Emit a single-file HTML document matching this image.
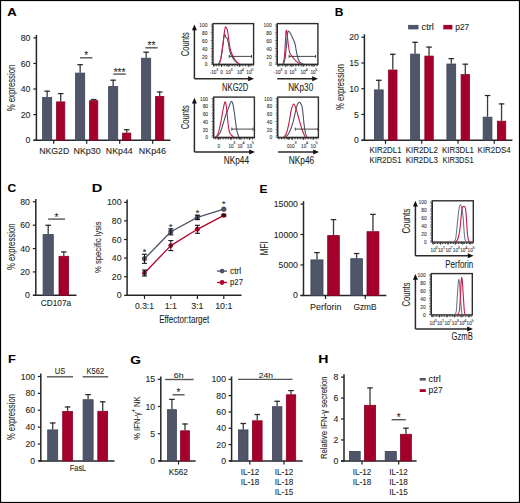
<!DOCTYPE html>
<html><head><meta charset="utf-8"><title>Figure</title>
<style>
html,body{margin:0;padding:0;background:#fff;}
body{width:520px;height:503px;overflow:hidden;}
svg{display:block;}
text{font-family:"Liberation Sans", sans-serif;stroke:#231f20;stroke-width:0.09px;}
</style></head>
<body>
<svg width="520" height="503" viewBox="0 0 520 503">
<rect x="0.5" y="0.5" width="519" height="502" fill="#fff" stroke="#000" stroke-width="1.2"/>
<text x="7.17" y="16.4" font-size="11.8" font-weight="bold" fill="#000" textLength="9.47" lengthAdjust="spacingAndGlyphs">A</text>
<line x1="36.4" y1="35" x2="36.4" y2="140.9" stroke="#262626" stroke-width="1.5" stroke-linecap="butt"/>
<line x1="33.4" y1="37.9" x2="36.4" y2="37.9" stroke="#1e1e1e" stroke-width="1.2" stroke-linecap="butt"/>
<text x="30.4" y="40.99" font-size="8.7" text-anchor="end" fill="#231f20">80</text>
<line x1="33.4" y1="63.47" x2="36.4" y2="63.47" stroke="#1e1e1e" stroke-width="1.2" stroke-linecap="butt"/>
<text x="30.4" y="66.56" font-size="8.7" text-anchor="end" fill="#231f20">60</text>
<line x1="33.4" y1="89.05" x2="36.4" y2="89.05" stroke="#1e1e1e" stroke-width="1.2" stroke-linecap="butt"/>
<text x="30.4" y="92.14" font-size="8.7" text-anchor="end" fill="#231f20">40</text>
<line x1="33.4" y1="114.62" x2="36.4" y2="114.62" stroke="#1e1e1e" stroke-width="1.2" stroke-linecap="butt"/>
<text x="30.4" y="117.71" font-size="8.7" text-anchor="end" fill="#231f20">20</text>
<line x1="33.4" y1="140.2" x2="36.4" y2="140.2" stroke="#1e1e1e" stroke-width="1.2" stroke-linecap="butt"/>
<text x="30.4" y="143.29" font-size="8.7" text-anchor="end" fill="#231f20">0</text>
<line x1="33.4" y1="140.2" x2="170.5" y2="140.2" stroke="#262626" stroke-width="1.5" stroke-linecap="butt"/>
<line x1="53.7" y1="140.2" x2="53.7" y2="143.8" stroke="#1e1e1e" stroke-width="1.2" stroke-linecap="butt"/>
<line x1="86.7" y1="140.2" x2="86.7" y2="143.8" stroke="#1e1e1e" stroke-width="1.2" stroke-linecap="butt"/>
<line x1="119.7" y1="140.2" x2="119.7" y2="143.8" stroke="#1e1e1e" stroke-width="1.2" stroke-linecap="butt"/>
<line x1="152.7" y1="140.2" x2="152.7" y2="143.8" stroke="#1e1e1e" stroke-width="1.2" stroke-linecap="butt"/>
<rect x="42.6" y="97.5" width="9.1" height="42.7" fill="#4f566a" stroke="#3c4356" stroke-width="0.8"/>
<rect x="56.6" y="101.9" width="8.2" height="38.3" fill="#a3002b" stroke="#8c0025" stroke-width="0.8"/>
<line x1="47.15" y1="97.1" x2="47.15" y2="90.7" stroke="#3a3a3a" stroke-width="1.3" stroke-linecap="butt"/>
<line x1="44.35" y1="91.2" x2="49.95" y2="91.2" stroke="#2a2a2a" stroke-width="1.25" stroke-linecap="butt"/>
<line x1="60.7" y1="101.5" x2="60.7" y2="93.1" stroke="#3a3a3a" stroke-width="1.3" stroke-linecap="butt"/>
<line x1="57.9" y1="93.6" x2="63.5" y2="93.6" stroke="#2a2a2a" stroke-width="1.25" stroke-linecap="butt"/>
<rect x="75.6" y="73.1" width="9.1" height="67.1" fill="#4f566a" stroke="#3c4356" stroke-width="0.8"/>
<rect x="89.6" y="100.7" width="8.2" height="39.5" fill="#a3002b" stroke="#8c0025" stroke-width="0.8"/>
<line x1="80.15" y1="72.7" x2="80.15" y2="64.2" stroke="#3a3a3a" stroke-width="1.3" stroke-linecap="butt"/>
<line x1="77.35" y1="64.7" x2="82.95" y2="64.7" stroke="#2a2a2a" stroke-width="1.25" stroke-linecap="butt"/>
<line x1="93.7" y1="100.3" x2="93.7" y2="99" stroke="#3a3a3a" stroke-width="1.3" stroke-linecap="butt"/>
<line x1="90.9" y1="99.5" x2="96.5" y2="99.5" stroke="#2a2a2a" stroke-width="1.25" stroke-linecap="butt"/>
<rect x="108.6" y="86.6" width="9.1" height="53.6" fill="#4f566a" stroke="#3c4356" stroke-width="0.8"/>
<rect x="122.6" y="133.1" width="8.2" height="7.1" fill="#a3002b" stroke="#8c0025" stroke-width="0.8"/>
<line x1="113.15" y1="86.2" x2="113.15" y2="79.7" stroke="#3a3a3a" stroke-width="1.3" stroke-linecap="butt"/>
<line x1="110.35" y1="80.2" x2="115.95" y2="80.2" stroke="#2a2a2a" stroke-width="1.25" stroke-linecap="butt"/>
<line x1="126.7" y1="132.7" x2="126.7" y2="129.2" stroke="#3a3a3a" stroke-width="1.3" stroke-linecap="butt"/>
<line x1="123.9" y1="129.7" x2="129.5" y2="129.7" stroke="#2a2a2a" stroke-width="1.25" stroke-linecap="butt"/>
<rect x="141.6" y="58.2" width="9.1" height="82" fill="#4f566a" stroke="#3c4356" stroke-width="0.8"/>
<rect x="155.6" y="96.5" width="8.2" height="43.7" fill="#a3002b" stroke="#8c0025" stroke-width="0.8"/>
<line x1="146.15" y1="57.8" x2="146.15" y2="51.7" stroke="#3a3a3a" stroke-width="1.3" stroke-linecap="butt"/>
<line x1="143.35" y1="52.2" x2="148.95" y2="52.2" stroke="#2a2a2a" stroke-width="1.25" stroke-linecap="butt"/>
<line x1="159.7" y1="96.1" x2="159.7" y2="91.5" stroke="#3a3a3a" stroke-width="1.3" stroke-linecap="butt"/>
<line x1="156.9" y1="92" x2="162.5" y2="92" stroke="#2a2a2a" stroke-width="1.25" stroke-linecap="butt"/>
<text x="39.18" y="154.4" font-size="8.7" fill="#231f20" textLength="30.14" lengthAdjust="spacingAndGlyphs">NKG2D</text>
<text x="73.47" y="154.4" font-size="8.7" fill="#231f20" textLength="27.28" lengthAdjust="spacingAndGlyphs">NKp30</text>
<text x="105.88" y="154.4" font-size="8.7" fill="#231f20" textLength="26.88" lengthAdjust="spacingAndGlyphs">NKp44</text>
<text x="138.87" y="154.4" font-size="8.7" fill="#231f20" textLength="27.12" lengthAdjust="spacingAndGlyphs">NKp46</text>
<line x1="80.1" y1="57.8" x2="92.4" y2="57.8" stroke="#555" stroke-width="1.4" stroke-linecap="butt"/>
<text x="86.25" y="59.35" font-size="10.0" text-anchor="middle" fill="#222">*</text>
<line x1="113.3" y1="74.1" x2="125.8" y2="74.1" stroke="#555" stroke-width="1.4" stroke-linecap="butt"/>
<text x="119.55" y="75.65" font-size="10.0" text-anchor="middle" fill="#222">***</text>
<line x1="145.3" y1="47.8" x2="157.6" y2="47.8" stroke="#555" stroke-width="1.4" stroke-linecap="butt"/>
<text x="151.45" y="49.35" font-size="10.0" text-anchor="middle" fill="#222">**</text>
<text transform="translate(15.3 111.1) rotate(-90)" x="-0.28" y="0" font-size="10.2" fill="#231f20" textLength="46.78" lengthAdjust="spacingAndGlyphs">% expression</text>
<rect x="213" y="23.6" width="40.6" height="40.7" fill="none" stroke="#2e2e2e" stroke-width="1.4"/>
<line x1="210.8" y1="64" x2="213" y2="64" stroke="#333" stroke-width="0.8" stroke-linecap="butt"/>
<text x="207.4" y="66.35" font-size="4.9" text-anchor="end" fill="#3a3a3a">0</text>
<line x1="211.3" y1="62.44" x2="213" y2="62.44" stroke="#222" stroke-width="0.7" stroke-linecap="butt"/>
<line x1="211.3" y1="60.87" x2="213" y2="60.87" stroke="#222" stroke-width="0.7" stroke-linecap="butt"/>
<line x1="211.3" y1="59.31" x2="213" y2="59.31" stroke="#222" stroke-width="0.7" stroke-linecap="butt"/>
<line x1="211.3" y1="57.74" x2="213" y2="57.74" stroke="#222" stroke-width="0.7" stroke-linecap="butt"/>
<line x1="210.8" y1="56.18" x2="213" y2="56.18" stroke="#333" stroke-width="0.8" stroke-linecap="butt"/>
<text x="207.4" y="58.53" font-size="4.9" text-anchor="end" fill="#3a3a3a">20</text>
<line x1="211.3" y1="54.62" x2="213" y2="54.62" stroke="#222" stroke-width="0.7" stroke-linecap="butt"/>
<line x1="211.3" y1="53.05" x2="213" y2="53.05" stroke="#222" stroke-width="0.7" stroke-linecap="butt"/>
<line x1="211.3" y1="51.49" x2="213" y2="51.49" stroke="#222" stroke-width="0.7" stroke-linecap="butt"/>
<line x1="211.3" y1="49.92" x2="213" y2="49.92" stroke="#222" stroke-width="0.7" stroke-linecap="butt"/>
<line x1="210.8" y1="48.36" x2="213" y2="48.36" stroke="#333" stroke-width="0.8" stroke-linecap="butt"/>
<text x="207.4" y="50.71" font-size="4.9" text-anchor="end" fill="#3a3a3a">40</text>
<line x1="211.3" y1="46.8" x2="213" y2="46.8" stroke="#222" stroke-width="0.7" stroke-linecap="butt"/>
<line x1="211.3" y1="45.23" x2="213" y2="45.23" stroke="#222" stroke-width="0.7" stroke-linecap="butt"/>
<line x1="211.3" y1="43.67" x2="213" y2="43.67" stroke="#222" stroke-width="0.7" stroke-linecap="butt"/>
<line x1="211.3" y1="42.1" x2="213" y2="42.1" stroke="#222" stroke-width="0.7" stroke-linecap="butt"/>
<line x1="210.8" y1="40.54" x2="213" y2="40.54" stroke="#333" stroke-width="0.8" stroke-linecap="butt"/>
<text x="207.4" y="42.89" font-size="4.9" text-anchor="end" fill="#3a3a3a">60</text>
<line x1="211.3" y1="38.98" x2="213" y2="38.98" stroke="#222" stroke-width="0.7" stroke-linecap="butt"/>
<line x1="211.3" y1="37.41" x2="213" y2="37.41" stroke="#222" stroke-width="0.7" stroke-linecap="butt"/>
<line x1="211.3" y1="35.85" x2="213" y2="35.85" stroke="#222" stroke-width="0.7" stroke-linecap="butt"/>
<line x1="211.3" y1="34.28" x2="213" y2="34.28" stroke="#222" stroke-width="0.7" stroke-linecap="butt"/>
<line x1="210.8" y1="32.72" x2="213" y2="32.72" stroke="#333" stroke-width="0.8" stroke-linecap="butt"/>
<text x="207.4" y="35.07" font-size="4.9" text-anchor="end" fill="#3a3a3a">80</text>
<line x1="211.3" y1="31.16" x2="213" y2="31.16" stroke="#222" stroke-width="0.7" stroke-linecap="butt"/>
<line x1="211.3" y1="29.59" x2="213" y2="29.59" stroke="#222" stroke-width="0.7" stroke-linecap="butt"/>
<line x1="211.3" y1="28.03" x2="213" y2="28.03" stroke="#222" stroke-width="0.7" stroke-linecap="butt"/>
<line x1="211.3" y1="26.46" x2="213" y2="26.46" stroke="#222" stroke-width="0.7" stroke-linecap="butt"/>
<line x1="210.8" y1="24.9" x2="213" y2="24.9" stroke="#333" stroke-width="0.8" stroke-linecap="butt"/>
<text x="207.4" y="27.25" font-size="4.9" text-anchor="end" fill="#3a3a3a">100</text>
<line x1="213" y1="65.6" x2="253.6" y2="65.6" stroke="#222" stroke-width="1.3" stroke-dasharray="0.9 0.7"/>
<line x1="213.8" y1="64.3" x2="213.8" y2="66.9" stroke="#222" stroke-width="0.8" stroke-linecap="butt"/>
<text x="213.8" y="74.4" font-size="4.7" text-anchor="middle" fill="#3a3a3a">10</text>
<text x="217.2" y="71.3" font-size="3.8" text-anchor="middle" fill="#3a3a3a">3</text>
<text x="210.5" y="74.4" font-size="4.7" text-anchor="middle" fill="#3a3a3a">-</text>
<line x1="221.6" y1="64.3" x2="221.6" y2="66.9" stroke="#222" stroke-width="0.8" stroke-linecap="butt"/>
<text x="221.6" y="74.4" font-size="4.7" text-anchor="middle" fill="#3a3a3a">0</text>
<line x1="228.2" y1="64.3" x2="228.2" y2="66.9" stroke="#222" stroke-width="0.8" stroke-linecap="butt"/>
<text x="228.2" y="74.4" font-size="4.7" text-anchor="middle" fill="#3a3a3a">10</text>
<text x="231.6" y="71.3" font-size="3.8" text-anchor="middle" fill="#3a3a3a">3</text>
<line x1="239.5" y1="64.3" x2="239.5" y2="66.9" stroke="#222" stroke-width="0.8" stroke-linecap="butt"/>
<text x="239.5" y="74.4" font-size="4.7" text-anchor="middle" fill="#3a3a3a">10</text>
<text x="242.9" y="71.3" font-size="3.8" text-anchor="middle" fill="#3a3a3a">4</text>
<line x1="248.9" y1="64.3" x2="248.9" y2="66.9" stroke="#222" stroke-width="0.8" stroke-linecap="butt"/>
<text x="248.9" y="74.4" font-size="4.7" text-anchor="middle" fill="#3a3a3a">10</text>
<text x="252.3" y="71.3" font-size="3.8" text-anchor="middle" fill="#3a3a3a">5</text>
<rect x="277.3" y="23.6" width="40.6" height="40.7" fill="none" stroke="#2e2e2e" stroke-width="1.4"/>
<line x1="275.1" y1="64" x2="277.3" y2="64" stroke="#333" stroke-width="0.8" stroke-linecap="butt"/>
<text x="271.7" y="66.35" font-size="4.9" text-anchor="end" fill="#3a3a3a">0</text>
<line x1="275.6" y1="62.44" x2="277.3" y2="62.44" stroke="#222" stroke-width="0.7" stroke-linecap="butt"/>
<line x1="275.6" y1="60.87" x2="277.3" y2="60.87" stroke="#222" stroke-width="0.7" stroke-linecap="butt"/>
<line x1="275.6" y1="59.31" x2="277.3" y2="59.31" stroke="#222" stroke-width="0.7" stroke-linecap="butt"/>
<line x1="275.6" y1="57.74" x2="277.3" y2="57.74" stroke="#222" stroke-width="0.7" stroke-linecap="butt"/>
<line x1="275.1" y1="56.18" x2="277.3" y2="56.18" stroke="#333" stroke-width="0.8" stroke-linecap="butt"/>
<text x="271.7" y="58.53" font-size="4.9" text-anchor="end" fill="#3a3a3a">20</text>
<line x1="275.6" y1="54.62" x2="277.3" y2="54.62" stroke="#222" stroke-width="0.7" stroke-linecap="butt"/>
<line x1="275.6" y1="53.05" x2="277.3" y2="53.05" stroke="#222" stroke-width="0.7" stroke-linecap="butt"/>
<line x1="275.6" y1="51.49" x2="277.3" y2="51.49" stroke="#222" stroke-width="0.7" stroke-linecap="butt"/>
<line x1="275.6" y1="49.92" x2="277.3" y2="49.92" stroke="#222" stroke-width="0.7" stroke-linecap="butt"/>
<line x1="275.1" y1="48.36" x2="277.3" y2="48.36" stroke="#333" stroke-width="0.8" stroke-linecap="butt"/>
<text x="271.7" y="50.71" font-size="4.9" text-anchor="end" fill="#3a3a3a">40</text>
<line x1="275.6" y1="46.8" x2="277.3" y2="46.8" stroke="#222" stroke-width="0.7" stroke-linecap="butt"/>
<line x1="275.6" y1="45.23" x2="277.3" y2="45.23" stroke="#222" stroke-width="0.7" stroke-linecap="butt"/>
<line x1="275.6" y1="43.67" x2="277.3" y2="43.67" stroke="#222" stroke-width="0.7" stroke-linecap="butt"/>
<line x1="275.6" y1="42.1" x2="277.3" y2="42.1" stroke="#222" stroke-width="0.7" stroke-linecap="butt"/>
<line x1="275.1" y1="40.54" x2="277.3" y2="40.54" stroke="#333" stroke-width="0.8" stroke-linecap="butt"/>
<text x="271.7" y="42.89" font-size="4.9" text-anchor="end" fill="#3a3a3a">60</text>
<line x1="275.6" y1="38.98" x2="277.3" y2="38.98" stroke="#222" stroke-width="0.7" stroke-linecap="butt"/>
<line x1="275.6" y1="37.41" x2="277.3" y2="37.41" stroke="#222" stroke-width="0.7" stroke-linecap="butt"/>
<line x1="275.6" y1="35.85" x2="277.3" y2="35.85" stroke="#222" stroke-width="0.7" stroke-linecap="butt"/>
<line x1="275.6" y1="34.28" x2="277.3" y2="34.28" stroke="#222" stroke-width="0.7" stroke-linecap="butt"/>
<line x1="275.1" y1="32.72" x2="277.3" y2="32.72" stroke="#333" stroke-width="0.8" stroke-linecap="butt"/>
<text x="271.7" y="35.07" font-size="4.9" text-anchor="end" fill="#3a3a3a">80</text>
<line x1="275.6" y1="31.16" x2="277.3" y2="31.16" stroke="#222" stroke-width="0.7" stroke-linecap="butt"/>
<line x1="275.6" y1="29.59" x2="277.3" y2="29.59" stroke="#222" stroke-width="0.7" stroke-linecap="butt"/>
<line x1="275.6" y1="28.03" x2="277.3" y2="28.03" stroke="#222" stroke-width="0.7" stroke-linecap="butt"/>
<line x1="275.6" y1="26.46" x2="277.3" y2="26.46" stroke="#222" stroke-width="0.7" stroke-linecap="butt"/>
<line x1="275.1" y1="24.9" x2="277.3" y2="24.9" stroke="#333" stroke-width="0.8" stroke-linecap="butt"/>
<text x="271.7" y="27.25" font-size="4.9" text-anchor="end" fill="#3a3a3a">100</text>
<line x1="277.3" y1="65.6" x2="317.9" y2="65.6" stroke="#222" stroke-width="1.3" stroke-dasharray="0.9 0.7"/>
<line x1="278" y1="64.3" x2="278" y2="66.9" stroke="#222" stroke-width="0.8" stroke-linecap="butt"/>
<text x="278" y="74.4" font-size="4.7" text-anchor="middle" fill="#3a3a3a">10</text>
<text x="281.4" y="71.3" font-size="3.8" text-anchor="middle" fill="#3a3a3a">3</text>
<text x="274.7" y="74.4" font-size="4.7" text-anchor="middle" fill="#3a3a3a">-</text>
<line x1="285.9" y1="64.3" x2="285.9" y2="66.9" stroke="#222" stroke-width="0.8" stroke-linecap="butt"/>
<text x="285.9" y="74.4" font-size="4.7" text-anchor="middle" fill="#3a3a3a">0</text>
<line x1="291.8" y1="64.3" x2="291.8" y2="66.9" stroke="#222" stroke-width="0.8" stroke-linecap="butt"/>
<text x="291.8" y="74.4" font-size="4.7" text-anchor="middle" fill="#3a3a3a">10</text>
<text x="295.2" y="71.3" font-size="3.8" text-anchor="middle" fill="#3a3a3a">3</text>
<line x1="303.1" y1="64.3" x2="303.1" y2="66.9" stroke="#222" stroke-width="0.8" stroke-linecap="butt"/>
<text x="303.1" y="74.4" font-size="4.7" text-anchor="middle" fill="#3a3a3a">10</text>
<text x="306.5" y="71.3" font-size="3.8" text-anchor="middle" fill="#3a3a3a">4</text>
<line x1="313" y1="64.3" x2="313" y2="66.9" stroke="#222" stroke-width="0.8" stroke-linecap="butt"/>
<text x="313" y="74.4" font-size="4.7" text-anchor="middle" fill="#3a3a3a">10</text>
<text x="316.4" y="71.3" font-size="3.8" text-anchor="middle" fill="#3a3a3a">5</text>
<rect x="213.7" y="97.1" width="40.7" height="40.3" fill="none" stroke="#2e2e2e" stroke-width="1.4"/>
<line x1="211.5" y1="137.1" x2="213.7" y2="137.1" stroke="#333" stroke-width="0.8" stroke-linecap="butt"/>
<text x="208.1" y="139.45" font-size="4.9" text-anchor="end" fill="#3a3a3a">0</text>
<line x1="212" y1="135.55" x2="213.7" y2="135.55" stroke="#222" stroke-width="0.7" stroke-linecap="butt"/>
<line x1="212" y1="134" x2="213.7" y2="134" stroke="#222" stroke-width="0.7" stroke-linecap="butt"/>
<line x1="212" y1="132.46" x2="213.7" y2="132.46" stroke="#222" stroke-width="0.7" stroke-linecap="butt"/>
<line x1="212" y1="130.91" x2="213.7" y2="130.91" stroke="#222" stroke-width="0.7" stroke-linecap="butt"/>
<line x1="211.5" y1="129.36" x2="213.7" y2="129.36" stroke="#333" stroke-width="0.8" stroke-linecap="butt"/>
<text x="208.1" y="131.71" font-size="4.9" text-anchor="end" fill="#3a3a3a">20</text>
<line x1="212" y1="127.81" x2="213.7" y2="127.81" stroke="#222" stroke-width="0.7" stroke-linecap="butt"/>
<line x1="212" y1="126.26" x2="213.7" y2="126.26" stroke="#222" stroke-width="0.7" stroke-linecap="butt"/>
<line x1="212" y1="124.72" x2="213.7" y2="124.72" stroke="#222" stroke-width="0.7" stroke-linecap="butt"/>
<line x1="212" y1="123.17" x2="213.7" y2="123.17" stroke="#222" stroke-width="0.7" stroke-linecap="butt"/>
<line x1="211.5" y1="121.62" x2="213.7" y2="121.62" stroke="#333" stroke-width="0.8" stroke-linecap="butt"/>
<text x="208.1" y="123.97" font-size="4.9" text-anchor="end" fill="#3a3a3a">40</text>
<line x1="212" y1="120.07" x2="213.7" y2="120.07" stroke="#222" stroke-width="0.7" stroke-linecap="butt"/>
<line x1="212" y1="118.52" x2="213.7" y2="118.52" stroke="#222" stroke-width="0.7" stroke-linecap="butt"/>
<line x1="212" y1="116.98" x2="213.7" y2="116.98" stroke="#222" stroke-width="0.7" stroke-linecap="butt"/>
<line x1="212" y1="115.43" x2="213.7" y2="115.43" stroke="#222" stroke-width="0.7" stroke-linecap="butt"/>
<line x1="211.5" y1="113.88" x2="213.7" y2="113.88" stroke="#333" stroke-width="0.8" stroke-linecap="butt"/>
<text x="208.1" y="116.23" font-size="4.9" text-anchor="end" fill="#3a3a3a">60</text>
<line x1="212" y1="112.33" x2="213.7" y2="112.33" stroke="#222" stroke-width="0.7" stroke-linecap="butt"/>
<line x1="212" y1="110.78" x2="213.7" y2="110.78" stroke="#222" stroke-width="0.7" stroke-linecap="butt"/>
<line x1="212" y1="109.24" x2="213.7" y2="109.24" stroke="#222" stroke-width="0.7" stroke-linecap="butt"/>
<line x1="212" y1="107.69" x2="213.7" y2="107.69" stroke="#222" stroke-width="0.7" stroke-linecap="butt"/>
<line x1="211.5" y1="106.14" x2="213.7" y2="106.14" stroke="#333" stroke-width="0.8" stroke-linecap="butt"/>
<text x="208.1" y="108.49" font-size="4.9" text-anchor="end" fill="#3a3a3a">80</text>
<line x1="212" y1="104.59" x2="213.7" y2="104.59" stroke="#222" stroke-width="0.7" stroke-linecap="butt"/>
<line x1="212" y1="103.04" x2="213.7" y2="103.04" stroke="#222" stroke-width="0.7" stroke-linecap="butt"/>
<line x1="212" y1="101.5" x2="213.7" y2="101.5" stroke="#222" stroke-width="0.7" stroke-linecap="butt"/>
<line x1="212" y1="99.95" x2="213.7" y2="99.95" stroke="#222" stroke-width="0.7" stroke-linecap="butt"/>
<line x1="211.5" y1="98.4" x2="213.7" y2="98.4" stroke="#333" stroke-width="0.8" stroke-linecap="butt"/>
<text x="208.1" y="100.75" font-size="4.9" text-anchor="end" fill="#3a3a3a">100</text>
<line x1="213.7" y1="138.7" x2="254.4" y2="138.7" stroke="#222" stroke-width="1.3" stroke-dasharray="0.9 0.7"/>
<line x1="218.8" y1="137.4" x2="218.8" y2="140" stroke="#222" stroke-width="0.8" stroke-linecap="butt"/>
<text x="218.8" y="147.5" font-size="4.7" text-anchor="middle" fill="#3a3a3a">0</text>
<line x1="231" y1="137.4" x2="231" y2="140" stroke="#222" stroke-width="0.8" stroke-linecap="butt"/>
<text x="231" y="147.5" font-size="4.7" text-anchor="middle" fill="#3a3a3a">10</text>
<text x="234.4" y="144.4" font-size="3.8" text-anchor="middle" fill="#3a3a3a">3</text>
<line x1="240.1" y1="137.4" x2="240.1" y2="140" stroke="#222" stroke-width="0.8" stroke-linecap="butt"/>
<text x="240.1" y="147.5" font-size="4.7" text-anchor="middle" fill="#3a3a3a">10</text>
<text x="243.5" y="144.4" font-size="3.8" text-anchor="middle" fill="#3a3a3a">4</text>
<line x1="249.4" y1="137.4" x2="249.4" y2="140" stroke="#222" stroke-width="0.8" stroke-linecap="butt"/>
<text x="249.4" y="147.5" font-size="4.7" text-anchor="middle" fill="#3a3a3a">10</text>
<text x="252.8" y="144.4" font-size="3.8" text-anchor="middle" fill="#3a3a3a">5</text>
<rect x="277.8" y="97.1" width="40.6" height="40.3" fill="none" stroke="#2e2e2e" stroke-width="1.4"/>
<line x1="275.6" y1="137.1" x2="277.8" y2="137.1" stroke="#333" stroke-width="0.8" stroke-linecap="butt"/>
<text x="272.2" y="139.45" font-size="4.9" text-anchor="end" fill="#3a3a3a">0</text>
<line x1="276.1" y1="135.55" x2="277.8" y2="135.55" stroke="#222" stroke-width="0.7" stroke-linecap="butt"/>
<line x1="276.1" y1="134" x2="277.8" y2="134" stroke="#222" stroke-width="0.7" stroke-linecap="butt"/>
<line x1="276.1" y1="132.46" x2="277.8" y2="132.46" stroke="#222" stroke-width="0.7" stroke-linecap="butt"/>
<line x1="276.1" y1="130.91" x2="277.8" y2="130.91" stroke="#222" stroke-width="0.7" stroke-linecap="butt"/>
<line x1="275.6" y1="129.36" x2="277.8" y2="129.36" stroke="#333" stroke-width="0.8" stroke-linecap="butt"/>
<text x="272.2" y="131.71" font-size="4.9" text-anchor="end" fill="#3a3a3a">20</text>
<line x1="276.1" y1="127.81" x2="277.8" y2="127.81" stroke="#222" stroke-width="0.7" stroke-linecap="butt"/>
<line x1="276.1" y1="126.26" x2="277.8" y2="126.26" stroke="#222" stroke-width="0.7" stroke-linecap="butt"/>
<line x1="276.1" y1="124.72" x2="277.8" y2="124.72" stroke="#222" stroke-width="0.7" stroke-linecap="butt"/>
<line x1="276.1" y1="123.17" x2="277.8" y2="123.17" stroke="#222" stroke-width="0.7" stroke-linecap="butt"/>
<line x1="275.6" y1="121.62" x2="277.8" y2="121.62" stroke="#333" stroke-width="0.8" stroke-linecap="butt"/>
<text x="272.2" y="123.97" font-size="4.9" text-anchor="end" fill="#3a3a3a">40</text>
<line x1="276.1" y1="120.07" x2="277.8" y2="120.07" stroke="#222" stroke-width="0.7" stroke-linecap="butt"/>
<line x1="276.1" y1="118.52" x2="277.8" y2="118.52" stroke="#222" stroke-width="0.7" stroke-linecap="butt"/>
<line x1="276.1" y1="116.98" x2="277.8" y2="116.98" stroke="#222" stroke-width="0.7" stroke-linecap="butt"/>
<line x1="276.1" y1="115.43" x2="277.8" y2="115.43" stroke="#222" stroke-width="0.7" stroke-linecap="butt"/>
<line x1="275.6" y1="113.88" x2="277.8" y2="113.88" stroke="#333" stroke-width="0.8" stroke-linecap="butt"/>
<text x="272.2" y="116.23" font-size="4.9" text-anchor="end" fill="#3a3a3a">60</text>
<line x1="276.1" y1="112.33" x2="277.8" y2="112.33" stroke="#222" stroke-width="0.7" stroke-linecap="butt"/>
<line x1="276.1" y1="110.78" x2="277.8" y2="110.78" stroke="#222" stroke-width="0.7" stroke-linecap="butt"/>
<line x1="276.1" y1="109.24" x2="277.8" y2="109.24" stroke="#222" stroke-width="0.7" stroke-linecap="butt"/>
<line x1="276.1" y1="107.69" x2="277.8" y2="107.69" stroke="#222" stroke-width="0.7" stroke-linecap="butt"/>
<line x1="275.6" y1="106.14" x2="277.8" y2="106.14" stroke="#333" stroke-width="0.8" stroke-linecap="butt"/>
<text x="272.2" y="108.49" font-size="4.9" text-anchor="end" fill="#3a3a3a">80</text>
<line x1="276.1" y1="104.59" x2="277.8" y2="104.59" stroke="#222" stroke-width="0.7" stroke-linecap="butt"/>
<line x1="276.1" y1="103.04" x2="277.8" y2="103.04" stroke="#222" stroke-width="0.7" stroke-linecap="butt"/>
<line x1="276.1" y1="101.5" x2="277.8" y2="101.5" stroke="#222" stroke-width="0.7" stroke-linecap="butt"/>
<line x1="276.1" y1="99.95" x2="277.8" y2="99.95" stroke="#222" stroke-width="0.7" stroke-linecap="butt"/>
<line x1="275.6" y1="98.4" x2="277.8" y2="98.4" stroke="#333" stroke-width="0.8" stroke-linecap="butt"/>
<text x="272.2" y="100.75" font-size="4.9" text-anchor="end" fill="#3a3a3a">100</text>
<line x1="277.8" y1="138.7" x2="318.4" y2="138.7" stroke="#222" stroke-width="1.3" stroke-dasharray="0.9 0.7"/>
<line x1="288.3" y1="137.4" x2="288.3" y2="140" stroke="#222" stroke-width="0.8" stroke-linecap="butt"/>
<text x="288.3" y="147.5" font-size="4.7" text-anchor="middle" fill="#3a3a3a">0</text>
<line x1="292.1" y1="137.4" x2="292.1" y2="140" stroke="#222" stroke-width="0.8" stroke-linecap="butt"/>
<text x="292.1" y="147.5" font-size="4.7" text-anchor="middle" fill="#3a3a3a">10</text>
<text x="295.5" y="144.4" font-size="3.8" text-anchor="middle" fill="#3a3a3a">3</text>
<line x1="303.7" y1="137.4" x2="303.7" y2="140" stroke="#222" stroke-width="0.8" stroke-linecap="butt"/>
<text x="303.7" y="147.5" font-size="4.7" text-anchor="middle" fill="#3a3a3a">10</text>
<text x="307.1" y="144.4" font-size="3.8" text-anchor="middle" fill="#3a3a3a">4</text>
<line x1="313.2" y1="137.4" x2="313.2" y2="140" stroke="#222" stroke-width="0.8" stroke-linecap="butt"/>
<text x="313.2" y="147.5" font-size="4.7" text-anchor="middle" fill="#3a3a3a">10</text>
<text x="316.6" y="144.4" font-size="3.8" text-anchor="middle" fill="#3a3a3a">5</text>
<path d="M218.5,64 C218.83,63.33 219.83,62.67 220.5,60 C221.17,57.33 221.92,52 222.5,48 C223.08,44 223.63,38.3 224,36 C224.37,33.7 224.37,33.95 224.7,34.2 C225.03,34.45 225.58,36.8 226,37.5 C226.42,38.2 226.78,37.32 227.2,38.4 C227.62,39.48 228.03,41.73 228.5,44 C228.97,46.27 229.33,49.75 230,52 C230.67,54.25 231.58,55.92 232.5,57.5 C233.42,59.08 234.58,60.48 235.5,61.5 C236.42,62.52 237.58,63.25 238,63.6" fill="none" stroke="#4a5168" stroke-width="1.1" stroke-linejoin="round"/>
<path d="M219,64 C219.33,63 220.33,61.33 221,58 C221.67,54.67 222.38,48.67 223,44 C223.62,39.33 224.27,32.87 224.7,30 C225.13,27.13 225.28,27.03 225.6,26.8 C225.92,26.57 226.3,28.1 226.6,28.6 C226.9,29.1 227.07,28.23 227.4,29.8 C227.73,31.37 228.13,34.8 228.6,38 C229.07,41.2 229.47,45.92 230.2,49 C230.93,52.08 231.95,54.42 233,56.5 C234.05,58.58 235.4,60.28 236.5,61.5 C237.6,62.72 239.08,63.42 239.6,63.8" fill="none" stroke="#c41e48" stroke-width="1.1" stroke-linejoin="round"/>
<line x1="229.2" y1="56.4" x2="251.5" y2="56.4" stroke="#333" stroke-width="0.9" stroke-linecap="butt"/>
<line x1="229.2" y1="54.9" x2="229.2" y2="57.9" stroke="#333" stroke-width="0.9" stroke-linecap="butt"/>
<line x1="251.5" y1="54.9" x2="251.5" y2="57.9" stroke="#333" stroke-width="0.9" stroke-linecap="butt"/>
<path d="M283.6,64 C283.87,63 284.72,61.17 285.2,58 C285.68,54.83 286.08,49.17 286.5,45 C286.92,40.83 287.35,35.33 287.7,33 C288.05,30.67 288.13,30.92 288.6,31 C289.07,31.08 289.77,32.22 290.5,33.5 C291.23,34.78 292.25,36.98 293,38.7 C293.75,40.42 294.35,41.22 295,43.8 C295.65,46.38 296.15,51.18 296.9,54.2 C297.65,57.22 298.43,60.27 299.5,61.9 C300.57,63.53 302.67,63.65 303.3,64" fill="none" stroke="#4a5168" stroke-width="1.1" stroke-linejoin="round"/>
<path d="M283,64 C283.25,62.67 284.08,60 284.5,56 C284.92,52 285.22,44.28 285.5,40 C285.78,35.72 285.92,31.13 286.2,30.3 C286.48,29.47 286.82,32.38 287.2,35 C287.58,37.62 288.07,43.02 288.5,46 C288.93,48.98 289.13,51.1 289.8,52.9 C290.47,54.7 291.47,55.42 292.5,56.8 C293.53,58.18 294.73,60.02 296,61.2 C297.27,62.38 299.42,63.45 300.1,63.9" fill="none" stroke="#c41e48" stroke-width="1.1" stroke-linejoin="round"/>
<line x1="289.1" y1="56.4" x2="315.6" y2="56.4" stroke="#333" stroke-width="0.9" stroke-linecap="butt"/>
<line x1="289.1" y1="54.9" x2="289.1" y2="57.9" stroke="#333" stroke-width="0.9" stroke-linecap="butt"/>
<line x1="315.6" y1="54.9" x2="315.6" y2="57.9" stroke="#333" stroke-width="0.9" stroke-linecap="butt"/>
<path d="M216.5,137.2 C217.08,136.5 219,134.87 220,133 C221,131.13 221.58,128.83 222.5,126 C223.42,123.17 224.58,118.77 225.5,116 C226.42,113.23 227.25,111.4 228,109.4 C228.75,107.4 229.43,105.33 230,104 C230.57,102.67 230.93,101.48 231.4,101.4 C231.87,101.32 232.33,101.82 232.8,103.5 C233.27,105.18 233.75,108.5 234.2,111.5 C234.65,114.5 235.07,118.33 235.5,121.5 C235.93,124.67 236.23,127.88 236.8,130.5 C237.37,133.12 238.55,136.08 238.9,137.2" fill="none" stroke="#4a5168" stroke-width="1.1" stroke-linejoin="round"/>
<path d="M215.5,137.2 C215.92,136.67 217.12,136.48 218,134 C218.88,131.52 219.93,126.47 220.8,122.3 C221.67,118.13 222.5,112.4 223.2,109 C223.9,105.6 224.48,102.4 225,101.9 C225.52,101.4 225.92,103.68 226.3,106 C226.68,108.32 226.93,112.3 227.3,115.8 C227.67,119.3 228.05,124.05 228.5,127 C228.95,129.95 229.12,131.8 230,133.5 C230.88,135.2 233.17,136.58 233.8,137.2" fill="none" stroke="#c41e48" stroke-width="1.1" stroke-linejoin="round"/>
<line x1="231.8" y1="129.1" x2="253.1" y2="129.1" stroke="#333" stroke-width="0.9" stroke-linecap="butt"/>
<line x1="231.8" y1="127.6" x2="231.8" y2="130.6" stroke="#333" stroke-width="0.9" stroke-linecap="butt"/>
<line x1="253.1" y1="127.6" x2="253.1" y2="130.6" stroke="#333" stroke-width="0.9" stroke-linecap="butt"/>
<path d="M285.3,137.2 C285.92,136.5 287.72,135.48 289,133 C290.28,130.52 291.8,126.45 293,122.3 C294.2,118.15 295.37,111.23 296.2,108.1 C297.03,104.97 297.45,104.47 298,103.5 C298.55,102.53 299,102.22 299.5,102.3 C300,102.38 300.52,102.97 301,104 C301.48,105.03 301.9,105.23 302.4,108.5 C302.9,111.77 303.52,119.6 304,123.6 C304.48,127.6 304.83,130.23 305.3,132.5 C305.77,134.77 306.55,136.42 306.8,137.2" fill="none" stroke="#4a5168" stroke-width="1.1" stroke-linejoin="round"/>
<path d="M283.8,137.2 C284.25,136.5 285.62,135.48 286.5,133 C287.38,130.52 288.33,126.02 289.1,122.3 C289.87,118.58 290.38,113.72 291.1,110.7 C291.82,107.68 292.6,104.63 293.4,104.2 C294.2,103.77 294.88,105.3 295.9,108.1 C296.92,110.9 298.37,117.13 299.5,121 C300.63,124.87 301.73,128.6 302.7,131.3 C303.67,134 304.87,136.22 305.3,137.2" fill="none" stroke="#c41e48" stroke-width="1.1" stroke-linejoin="round"/>
<line x1="295.3" y1="129.1" x2="317.8" y2="129.1" stroke="#333" stroke-width="0.9" stroke-linecap="butt"/>
<line x1="295.3" y1="127.6" x2="295.3" y2="130.6" stroke="#333" stroke-width="0.9" stroke-linecap="butt"/>
<line x1="317.8" y1="127.6" x2="317.8" y2="130.6" stroke="#333" stroke-width="0.9" stroke-linecap="butt"/>
<line x1="194.4" y1="28.4" x2="194.4" y2="78.7" stroke="#2a2a2a" stroke-width="1.5" stroke-linecap="butt"/>
<path d="M194.4,24.4 L191.9,30.2 L196.9,30.2 Z" fill="#111"/>
<line x1="194.4" y1="78.7" x2="250" y2="78.7" stroke="#2a2a2a" stroke-width="1.5" stroke-linecap="butt"/>
<path d="M254,78.7 L248.2,76.2 L248.2,81.2 Z" fill="#111"/>
<line x1="277.2" y1="78.7" x2="314" y2="78.7" stroke="#2a2a2a" stroke-width="1.5" stroke-linecap="butt"/>
<path d="M318,78.7 L312.2,76.2 L312.2,81.2 Z" fill="#111"/>
<line x1="194.4" y1="101.8" x2="194.4" y2="152" stroke="#2a2a2a" stroke-width="1.5" stroke-linecap="butt"/>
<path d="M194.4,97.8 L191.9,103.6 L196.9,103.6 Z" fill="#111"/>
<line x1="194.4" y1="152" x2="251" y2="152" stroke="#2a2a2a" stroke-width="1.5" stroke-linecap="butt"/>
<path d="M255,152 L249.2,149.5 L249.2,154.5 Z" fill="#111"/>
<line x1="278" y1="152" x2="315" y2="152" stroke="#2a2a2a" stroke-width="1.5" stroke-linecap="butt"/>
<path d="M319,152 L313.2,149.5 L313.2,154.5 Z" fill="#111"/>
<text x="189.3" y="44.2" font-size="10.0" text-anchor="middle" fill="#231f20" textLength="24" lengthAdjust="spacingAndGlyphs" transform="rotate(-90 189.3 44.2)">Counts</text>
<text x="189.3" y="117.2" font-size="10.0" text-anchor="middle" fill="#231f20" textLength="24" lengthAdjust="spacingAndGlyphs" transform="rotate(-90 189.3 117.2)">Counts</text>
<text x="222.07" y="90.8" font-size="10.2" fill="#231f20" textLength="26.29" lengthAdjust="spacingAndGlyphs">NKG2D</text>
<text x="288.13" y="90.8" font-size="10.2" fill="#231f20" textLength="25.09" lengthAdjust="spacingAndGlyphs">NKp30</text>
<text x="223.82" y="163.8" font-size="10.2" fill="#231f20" textLength="25.22" lengthAdjust="spacingAndGlyphs">NKp44</text>
<text x="288.82" y="163.8" font-size="10.2" fill="#231f20" textLength="25.34" lengthAdjust="spacingAndGlyphs">NKp46</text>
<text x="334.8" y="16.3" font-size="11.8" font-weight="bold" fill="#000" textLength="8.64" lengthAdjust="spacingAndGlyphs">B</text>
<line x1="364.4" y1="34.3" x2="364.4" y2="140.9" stroke="#262626" stroke-width="1.5" stroke-linecap="butt"/>
<line x1="361.4" y1="37.2" x2="364.4" y2="37.2" stroke="#1e1e1e" stroke-width="1.2" stroke-linecap="butt"/>
<text x="358.8" y="40.29" font-size="8.7" text-anchor="end" fill="#231f20">20</text>
<line x1="361.4" y1="62.95" x2="364.4" y2="62.95" stroke="#1e1e1e" stroke-width="1.2" stroke-linecap="butt"/>
<text x="358.8" y="66.04" font-size="8.7" text-anchor="end" fill="#231f20">15</text>
<line x1="361.4" y1="88.7" x2="364.4" y2="88.7" stroke="#1e1e1e" stroke-width="1.2" stroke-linecap="butt"/>
<text x="358.8" y="91.79" font-size="8.7" text-anchor="end" fill="#231f20">10</text>
<line x1="361.4" y1="114.45" x2="364.4" y2="114.45" stroke="#1e1e1e" stroke-width="1.2" stroke-linecap="butt"/>
<text x="358.8" y="117.54" font-size="8.7" text-anchor="end" fill="#231f20">5</text>
<line x1="361.4" y1="140.2" x2="364.4" y2="140.2" stroke="#1e1e1e" stroke-width="1.2" stroke-linecap="butt"/>
<text x="358.8" y="143.29" font-size="8.7" text-anchor="end" fill="#231f20">0</text>
<line x1="361.4" y1="140.2" x2="512.4" y2="140.2" stroke="#262626" stroke-width="1.5" stroke-linecap="butt"/>
<line x1="385.5" y1="140.2" x2="385.5" y2="143.8" stroke="#1e1e1e" stroke-width="1.2" stroke-linecap="butt"/>
<line x1="421.75" y1="140.2" x2="421.75" y2="143.8" stroke="#1e1e1e" stroke-width="1.2" stroke-linecap="butt"/>
<line x1="458" y1="140.2" x2="458" y2="143.8" stroke="#1e1e1e" stroke-width="1.2" stroke-linecap="butt"/>
<line x1="494.25" y1="140.2" x2="494.25" y2="143.8" stroke="#1e1e1e" stroke-width="1.2" stroke-linecap="butt"/>
<rect x="374.4" y="89.9" width="8.8" height="50.3" fill="#4f566a" stroke="#3c4356" stroke-width="0.8"/>
<rect x="388.6" y="70" width="8.4" height="70.2" fill="#a3002b" stroke="#8c0025" stroke-width="0.8"/>
<line x1="378.8" y1="89.5" x2="378.8" y2="79.8" stroke="#3a3a3a" stroke-width="1.3" stroke-linecap="butt"/>
<line x1="376" y1="80.3" x2="381.6" y2="80.3" stroke="#2a2a2a" stroke-width="1.25" stroke-linecap="butt"/>
<line x1="392.8" y1="69.6" x2="392.8" y2="53.8" stroke="#3a3a3a" stroke-width="1.3" stroke-linecap="butt"/>
<line x1="390" y1="54.3" x2="395.6" y2="54.3" stroke="#2a2a2a" stroke-width="1.25" stroke-linecap="butt"/>
<rect x="410.65" y="54.1" width="8.8" height="86.1" fill="#4f566a" stroke="#3c4356" stroke-width="0.8"/>
<rect x="424.85" y="56.1" width="8.4" height="84.1" fill="#a3002b" stroke="#8c0025" stroke-width="0.8"/>
<line x1="415.05" y1="53.7" x2="415.05" y2="41.8" stroke="#3a3a3a" stroke-width="1.3" stroke-linecap="butt"/>
<line x1="412.25" y1="42.3" x2="417.85" y2="42.3" stroke="#2a2a2a" stroke-width="1.25" stroke-linecap="butt"/>
<line x1="429.05" y1="55.7" x2="429.05" y2="46.6" stroke="#3a3a3a" stroke-width="1.3" stroke-linecap="butt"/>
<line x1="426.25" y1="47.1" x2="431.85" y2="47.1" stroke="#2a2a2a" stroke-width="1.25" stroke-linecap="butt"/>
<rect x="446.9" y="64" width="8.8" height="76.2" fill="#4f566a" stroke="#3c4356" stroke-width="0.8"/>
<rect x="461.1" y="74.6" width="8.4" height="65.6" fill="#a3002b" stroke="#8c0025" stroke-width="0.8"/>
<line x1="451.3" y1="63.6" x2="451.3" y2="58.1" stroke="#3a3a3a" stroke-width="1.3" stroke-linecap="butt"/>
<line x1="448.5" y1="58.6" x2="454.1" y2="58.6" stroke="#2a2a2a" stroke-width="1.25" stroke-linecap="butt"/>
<line x1="465.3" y1="74.2" x2="465.3" y2="63.7" stroke="#3a3a3a" stroke-width="1.3" stroke-linecap="butt"/>
<line x1="462.5" y1="64.2" x2="468.1" y2="64.2" stroke="#2a2a2a" stroke-width="1.25" stroke-linecap="butt"/>
<rect x="483.15" y="117.2" width="8.8" height="23" fill="#4f566a" stroke="#3c4356" stroke-width="0.8"/>
<rect x="497.35" y="121.2" width="8.4" height="19" fill="#a3002b" stroke="#8c0025" stroke-width="0.8"/>
<line x1="487.55" y1="116.8" x2="487.55" y2="95" stroke="#3a3a3a" stroke-width="1.3" stroke-linecap="butt"/>
<line x1="484.75" y1="95.5" x2="490.35" y2="95.5" stroke="#2a2a2a" stroke-width="1.25" stroke-linecap="butt"/>
<line x1="501.55" y1="120.8" x2="501.55" y2="103.4" stroke="#3a3a3a" stroke-width="1.3" stroke-linecap="butt"/>
<line x1="498.75" y1="103.9" x2="504.35" y2="103.9" stroke="#2a2a2a" stroke-width="1.25" stroke-linecap="butt"/>
<text x="369.5" y="153.1" font-size="8.8" fill="#231f20" textLength="32.03" lengthAdjust="spacingAndGlyphs">KIR2DL1</text>
<text x="369.52" y="162.9" font-size="8.6" fill="#231f20" textLength="32" lengthAdjust="spacingAndGlyphs">KIR2DS1</text>
<text x="405.65" y="153.1" font-size="8.8" fill="#231f20" textLength="32.25" lengthAdjust="spacingAndGlyphs">KIR2DL2</text>
<text x="405.65" y="162.9" font-size="8.6" fill="#231f20" textLength="32.2" lengthAdjust="spacingAndGlyphs">KIR2DL3</text>
<text x="442.05" y="153.1" font-size="8.8" fill="#231f20" textLength="31.93" lengthAdjust="spacingAndGlyphs">KIR3DL1</text>
<text x="442.38" y="162.9" font-size="8.6" fill="#231f20" textLength="31.28" lengthAdjust="spacingAndGlyphs">KIR3DS1</text>
<text x="477.6" y="153.1" font-size="8.8" fill="#231f20" textLength="33.19" lengthAdjust="spacingAndGlyphs">KIR2DS4</text>
<text transform="translate(344.3 109.8) rotate(-90)" x="-0.27" y="0" font-size="10.2" fill="#231f20" textLength="46.07" lengthAdjust="spacingAndGlyphs">% expression</text>
<rect x="408.1" y="24.9" width="10.4" height="4.5" fill="#4f566a"/>
<text x="421.61" y="30" font-size="8.4" fill="#231f20" textLength="12.09" lengthAdjust="spacingAndGlyphs">ctrl</text>
<rect x="443.3" y="24.9" width="9.1" height="4.5" fill="#a3002b"/>
<text x="455.26" y="30" font-size="8.4" fill="#231f20" textLength="13.96" lengthAdjust="spacingAndGlyphs">p27</text>
<text x="7.5" y="191.5" font-size="11.8" font-weight="bold" fill="#000" textLength="8.73" lengthAdjust="spacingAndGlyphs">C</text>
<line x1="35.8" y1="198.9" x2="35.8" y2="296" stroke="#262626" stroke-width="1.5" stroke-linecap="butt"/>
<line x1="32.8" y1="201.8" x2="35.8" y2="201.8" stroke="#1e1e1e" stroke-width="1.2" stroke-linecap="butt"/>
<text x="29.8" y="204.89" font-size="8.7" text-anchor="end" fill="#231f20">80</text>
<line x1="32.8" y1="225.18" x2="35.8" y2="225.18" stroke="#1e1e1e" stroke-width="1.2" stroke-linecap="butt"/>
<text x="29.8" y="228.26" font-size="8.7" text-anchor="end" fill="#231f20">60</text>
<line x1="32.8" y1="248.55" x2="35.8" y2="248.55" stroke="#1e1e1e" stroke-width="1.2" stroke-linecap="butt"/>
<text x="29.8" y="251.64" font-size="8.7" text-anchor="end" fill="#231f20">40</text>
<line x1="32.8" y1="271.93" x2="35.8" y2="271.93" stroke="#1e1e1e" stroke-width="1.2" stroke-linecap="butt"/>
<text x="29.8" y="275.01" font-size="8.7" text-anchor="end" fill="#231f20">20</text>
<line x1="32.8" y1="295.3" x2="35.8" y2="295.3" stroke="#1e1e1e" stroke-width="1.2" stroke-linecap="butt"/>
<text x="29.8" y="298.39" font-size="8.7" text-anchor="end" fill="#231f20">0</text>
<line x1="33.4" y1="295.3" x2="76.5" y2="295.3" stroke="#262626" stroke-width="1.5" stroke-linecap="butt"/>
<rect x="43.1" y="234.6" width="10.2" height="60.7" fill="#4f566a" stroke="#3c4356" stroke-width="0.8"/>
<rect x="59" y="256.3" width="9.6" height="39" fill="#a3002b" stroke="#8c0025" stroke-width="0.8"/>
<line x1="48.2" y1="234.2" x2="48.2" y2="224.8" stroke="#3a3a3a" stroke-width="1.3" stroke-linecap="butt"/>
<line x1="45.4" y1="225.3" x2="51" y2="225.3" stroke="#2a2a2a" stroke-width="1.25" stroke-linecap="butt"/>
<line x1="63.8" y1="255.9" x2="63.8" y2="251.4" stroke="#3a3a3a" stroke-width="1.3" stroke-linecap="butt"/>
<line x1="61" y1="251.9" x2="66.6" y2="251.9" stroke="#2a2a2a" stroke-width="1.25" stroke-linecap="butt"/>
<line x1="48.1" y1="219.1" x2="65" y2="219.1" stroke="#555" stroke-width="1.4" stroke-linecap="butt"/>
<text x="56.55" y="220.65" font-size="10.0" text-anchor="middle" fill="#222">*</text>
<text x="56" y="306.2" font-size="8.4" text-anchor="middle" fill="#231f20" textLength="30.4" lengthAdjust="spacingAndGlyphs">CD107a</text>
<text transform="translate(14.9 269.8) rotate(-90)" x="-0.28" y="0" font-size="10.2" fill="#231f20" textLength="46.58" lengthAdjust="spacingAndGlyphs">% expression</text>
<text x="91.82" y="192" font-size="11.8" font-weight="bold" fill="#000" textLength="10.6" lengthAdjust="spacingAndGlyphs">D</text>
<line x1="127.1" y1="199.4" x2="127.1" y2="296" stroke="#262626" stroke-width="1.5" stroke-linecap="butt"/>
<line x1="124.1" y1="202.3" x2="127.1" y2="202.3" stroke="#1e1e1e" stroke-width="1.2" stroke-linecap="butt"/>
<text x="121.5" y="205.39" font-size="8.7" text-anchor="end" fill="#231f20">100</text>
<line x1="124.1" y1="220.9" x2="127.1" y2="220.9" stroke="#1e1e1e" stroke-width="1.2" stroke-linecap="butt"/>
<text x="121.5" y="223.99" font-size="8.7" text-anchor="end" fill="#231f20">80</text>
<line x1="124.1" y1="239.5" x2="127.1" y2="239.5" stroke="#1e1e1e" stroke-width="1.2" stroke-linecap="butt"/>
<text x="121.5" y="242.59" font-size="8.7" text-anchor="end" fill="#231f20">60</text>
<line x1="124.1" y1="258.1" x2="127.1" y2="258.1" stroke="#1e1e1e" stroke-width="1.2" stroke-linecap="butt"/>
<text x="121.5" y="261.19" font-size="8.7" text-anchor="end" fill="#231f20">40</text>
<line x1="124.1" y1="276.7" x2="127.1" y2="276.7" stroke="#1e1e1e" stroke-width="1.2" stroke-linecap="butt"/>
<text x="121.5" y="279.79" font-size="8.7" text-anchor="end" fill="#231f20">20</text>
<line x1="124.1" y1="295.3" x2="127.1" y2="295.3" stroke="#1e1e1e" stroke-width="1.2" stroke-linecap="butt"/>
<text x="121.5" y="298.39" font-size="8.7" text-anchor="end" fill="#231f20">0</text>
<line x1="127.1" y1="295.3" x2="241.5" y2="295.3" stroke="#262626" stroke-width="1.5" stroke-linecap="butt"/>
<line x1="144.5" y1="295.3" x2="144.5" y2="298.9" stroke="#1e1e1e" stroke-width="1.2" stroke-linecap="butt"/>
<line x1="170.8" y1="295.3" x2="170.8" y2="298.9" stroke="#1e1e1e" stroke-width="1.2" stroke-linecap="butt"/>
<line x1="197.4" y1="295.3" x2="197.4" y2="298.9" stroke="#1e1e1e" stroke-width="1.2" stroke-linecap="butt"/>
<line x1="223.8" y1="295.3" x2="223.8" y2="298.9" stroke="#1e1e1e" stroke-width="1.2" stroke-linecap="butt"/>
<path d="M144.5,258.8 L170.8,231.8 L197.4,217.4 L223.8,209.2" fill="none" stroke="#4a5267" stroke-width="1.3" stroke-linejoin="round"/>
<path d="M144.5,273 L170.8,245.6 L197.4,229.3 L223.8,215.4" fill="none" stroke="#b0002c" stroke-width="1.3" stroke-linejoin="round"/>
<circle cx="144.5" cy="258.8" r="2.45" fill="#4a5267" stroke="#3a4152" stroke-width="0.4"/>
<line x1="144.5" y1="254.3" x2="144.5" y2="263.3" stroke="#111" stroke-width="1.0" stroke-linecap="butt"/>
<line x1="142" y1="254.3" x2="147" y2="254.3" stroke="#111" stroke-width="1.1" stroke-linecap="butt"/>
<line x1="142" y1="263.3" x2="147" y2="263.3" stroke="#111" stroke-width="1.1" stroke-linecap="butt"/>
<circle cx="170.8" cy="231.8" r="2.45" fill="#4a5267" stroke="#3a4152" stroke-width="0.4"/>
<line x1="170.8" y1="228.8" x2="170.8" y2="234.8" stroke="#111" stroke-width="1.0" stroke-linecap="butt"/>
<line x1="168.3" y1="228.8" x2="173.3" y2="228.8" stroke="#111" stroke-width="1.1" stroke-linecap="butt"/>
<line x1="168.3" y1="234.8" x2="173.3" y2="234.8" stroke="#111" stroke-width="1.1" stroke-linecap="butt"/>
<circle cx="197.4" cy="217.4" r="2.45" fill="#4a5267" stroke="#3a4152" stroke-width="0.4"/>
<line x1="197.4" y1="215.2" x2="197.4" y2="219.6" stroke="#111" stroke-width="1.0" stroke-linecap="butt"/>
<line x1="194.9" y1="215.2" x2="199.9" y2="215.2" stroke="#111" stroke-width="1.1" stroke-linecap="butt"/>
<line x1="194.9" y1="219.6" x2="199.9" y2="219.6" stroke="#111" stroke-width="1.1" stroke-linecap="butt"/>
<circle cx="223.8" cy="209.2" r="2.45" fill="#4a5267" stroke="#3a4152" stroke-width="0.4"/>
<circle cx="144.5" cy="273" r="2.45" fill="#a8002a"/>
<line x1="144.5" y1="270" x2="144.5" y2="276" stroke="#111" stroke-width="1.0" stroke-linecap="butt"/>
<line x1="142" y1="270" x2="147" y2="270" stroke="#111" stroke-width="1.1" stroke-linecap="butt"/>
<line x1="142" y1="276" x2="147" y2="276" stroke="#111" stroke-width="1.1" stroke-linecap="butt"/>
<circle cx="170.8" cy="245.6" r="2.45" fill="#a8002a"/>
<line x1="170.8" y1="240.6" x2="170.8" y2="250.6" stroke="#111" stroke-width="1.0" stroke-linecap="butt"/>
<line x1="168.3" y1="240.6" x2="173.3" y2="240.6" stroke="#111" stroke-width="1.1" stroke-linecap="butt"/>
<line x1="168.3" y1="250.6" x2="173.3" y2="250.6" stroke="#111" stroke-width="1.1" stroke-linecap="butt"/>
<circle cx="197.4" cy="229.3" r="2.45" fill="#a8002a"/>
<line x1="197.4" y1="225.3" x2="197.4" y2="233.3" stroke="#111" stroke-width="1.0" stroke-linecap="butt"/>
<line x1="194.9" y1="225.3" x2="199.9" y2="225.3" stroke="#111" stroke-width="1.1" stroke-linecap="butt"/>
<line x1="194.9" y1="233.3" x2="199.9" y2="233.3" stroke="#111" stroke-width="1.1" stroke-linecap="butt"/>
<circle cx="223.8" cy="215.4" r="2.45" fill="#a8002a"/>
<line x1="223.8" y1="214.6" x2="223.8" y2="216.2" stroke="#111" stroke-width="1.0" stroke-linecap="butt"/>
<line x1="221.3" y1="214.6" x2="226.3" y2="214.6" stroke="#111" stroke-width="1.1" stroke-linecap="butt"/>
<line x1="221.3" y1="216.2" x2="226.3" y2="216.2" stroke="#111" stroke-width="1.1" stroke-linecap="butt"/>
<text x="144.5" y="255.4" font-size="9.0" text-anchor="middle" fill="#222">*</text>
<text x="170.8" y="230.2" font-size="9.0" text-anchor="middle" fill="#222">*</text>
<text x="197.4" y="216.1" font-size="9.0" text-anchor="middle" fill="#222">*</text>
<text x="223.8" y="207" font-size="9.0" text-anchor="middle" fill="#222">*</text>
<text x="144.5" y="309.2" font-size="8.9" text-anchor="middle" fill="#231f20" textLength="18.9" lengthAdjust="spacingAndGlyphs">0.3:1</text>
<text x="170.8" y="309.2" font-size="8.9" text-anchor="middle" fill="#231f20">1:1</text>
<text x="197.4" y="309.2" font-size="8.9" text-anchor="middle" fill="#231f20">3:1</text>
<text x="223.8" y="309.2" font-size="8.9" text-anchor="middle" fill="#231f20">10:1</text>
<text x="159.15" y="322.8" font-size="10.0" fill="#231f20" textLength="50.11" lengthAdjust="spacingAndGlyphs">Effector:target</text>
<text transform="translate(101 272.7) rotate(-90)" x="-0.27" y="0" font-size="9.8" fill="#231f20" textLength="51.55" lengthAdjust="spacingAndGlyphs">% specific lysis</text>
<line x1="217.1" y1="271.1" x2="227" y2="271.1" stroke="#4a5267" stroke-width="1.3" stroke-linecap="butt"/>
<circle cx="222.1" cy="271.1" r="2.4" fill="#4a5267"/>
<text x="230" y="273.6" font-size="8.6" text-anchor="start" fill="#231f20" textLength="11.2" lengthAdjust="spacingAndGlyphs">ctrl</text>
<line x1="217.1" y1="282.5" x2="227" y2="282.5" stroke="#b0002c" stroke-width="1.3" stroke-linecap="butt"/>
<circle cx="222.1" cy="282.5" r="2.4" fill="#a8002a"/>
<text x="230" y="285" font-size="8.6" text-anchor="start" fill="#231f20" textLength="13" lengthAdjust="spacingAndGlyphs">p27</text>
<text x="259.5" y="193.4" font-size="11.8" font-weight="bold" fill="#000" textLength="7.97" lengthAdjust="spacingAndGlyphs">E</text>
<line x1="303.5" y1="201.2" x2="303.5" y2="296.1" stroke="#262626" stroke-width="1.5" stroke-linecap="butt"/>
<line x1="300.5" y1="204.1" x2="303.5" y2="204.1" stroke="#1e1e1e" stroke-width="1.2" stroke-linecap="butt"/>
<text x="297.9" y="207.19" font-size="8.7" text-anchor="end" fill="#231f20">15000</text>
<line x1="300.5" y1="234.53" x2="303.5" y2="234.53" stroke="#1e1e1e" stroke-width="1.2" stroke-linecap="butt"/>
<text x="297.9" y="237.62" font-size="8.7" text-anchor="end" fill="#231f20">10000</text>
<line x1="300.5" y1="264.97" x2="303.5" y2="264.97" stroke="#1e1e1e" stroke-width="1.2" stroke-linecap="butt"/>
<text x="297.9" y="268.06" font-size="8.7" text-anchor="end" fill="#231f20">5000</text>
<line x1="300.5" y1="295.4" x2="303.5" y2="295.4" stroke="#1e1e1e" stroke-width="1.2" stroke-linecap="butt"/>
<text x="297.9" y="298.49" font-size="8.7" text-anchor="end" fill="#231f20">0</text>
<line x1="300.5" y1="295.4" x2="386.3" y2="295.4" stroke="#262626" stroke-width="1.5" stroke-linecap="butt"/>
<line x1="325.5" y1="295.4" x2="325.5" y2="299" stroke="#1e1e1e" stroke-width="1.2" stroke-linecap="butt"/>
<line x1="365.3" y1="295.4" x2="365.3" y2="299" stroke="#1e1e1e" stroke-width="1.2" stroke-linecap="butt"/>
<rect x="310.9" y="259.9" width="12.1" height="35.5" fill="#4f566a" stroke="#3c4356" stroke-width="0.8"/>
<rect x="327.7" y="235.6" width="11.6" height="59.8" fill="#a3002b" stroke="#8c0025" stroke-width="0.8"/>
<rect x="350.8" y="258.7" width="11.6" height="36.7" fill="#4f566a" stroke="#3c4356" stroke-width="0.8"/>
<rect x="367" y="231.7" width="11.9" height="63.7" fill="#a3002b" stroke="#8c0025" stroke-width="0.8"/>
<line x1="316.95" y1="259.5" x2="316.95" y2="252.1" stroke="#3a3a3a" stroke-width="1.3" stroke-linecap="butt"/>
<line x1="314.15" y1="252.6" x2="319.75" y2="252.6" stroke="#2a2a2a" stroke-width="1.25" stroke-linecap="butt"/>
<line x1="333.5" y1="235.2" x2="333.5" y2="219.1" stroke="#3a3a3a" stroke-width="1.3" stroke-linecap="butt"/>
<line x1="330.7" y1="219.6" x2="336.3" y2="219.6" stroke="#2a2a2a" stroke-width="1.25" stroke-linecap="butt"/>
<line x1="356.6" y1="258.3" x2="356.6" y2="253" stroke="#3a3a3a" stroke-width="1.3" stroke-linecap="butt"/>
<line x1="353.8" y1="253.5" x2="359.4" y2="253.5" stroke="#2a2a2a" stroke-width="1.25" stroke-linecap="butt"/>
<line x1="372.95" y1="231.3" x2="372.95" y2="213.9" stroke="#3a3a3a" stroke-width="1.3" stroke-linecap="butt"/>
<line x1="370.15" y1="214.4" x2="375.75" y2="214.4" stroke="#2a2a2a" stroke-width="1.25" stroke-linecap="butt"/>
<text x="310.07" y="309.7" font-size="8.8" fill="#231f20" textLength="31.31" lengthAdjust="spacingAndGlyphs">Perforin</text>
<text x="353.38" y="309.7" font-size="8.8" fill="#231f20" textLength="23.26" lengthAdjust="spacingAndGlyphs">GzmB</text>
<text transform="translate(268 254.9) rotate(-90)" x="-0.68" y="0" font-size="10.4" fill="#231f20" textLength="14.35" lengthAdjust="spacingAndGlyphs">MFI</text>
<rect x="432.3" y="200.8" width="41" height="41.3" fill="none" stroke="#2e2e2e" stroke-width="1.4"/>
<line x1="430.1" y1="241.8" x2="432.3" y2="241.8" stroke="#333" stroke-width="0.8" stroke-linecap="butt"/>
<text x="426.7" y="244.15" font-size="4.9" text-anchor="end" fill="#3a3a3a">0</text>
<line x1="430.6" y1="240.21" x2="432.3" y2="240.21" stroke="#222" stroke-width="0.7" stroke-linecap="butt"/>
<line x1="430.6" y1="238.62" x2="432.3" y2="238.62" stroke="#222" stroke-width="0.7" stroke-linecap="butt"/>
<line x1="430.6" y1="237.04" x2="432.3" y2="237.04" stroke="#222" stroke-width="0.7" stroke-linecap="butt"/>
<line x1="430.6" y1="235.45" x2="432.3" y2="235.45" stroke="#222" stroke-width="0.7" stroke-linecap="butt"/>
<line x1="430.1" y1="233.86" x2="432.3" y2="233.86" stroke="#333" stroke-width="0.8" stroke-linecap="butt"/>
<text x="426.7" y="236.21" font-size="4.9" text-anchor="end" fill="#3a3a3a">20</text>
<line x1="430.6" y1="232.27" x2="432.3" y2="232.27" stroke="#222" stroke-width="0.7" stroke-linecap="butt"/>
<line x1="430.6" y1="230.68" x2="432.3" y2="230.68" stroke="#222" stroke-width="0.7" stroke-linecap="butt"/>
<line x1="430.6" y1="229.1" x2="432.3" y2="229.1" stroke="#222" stroke-width="0.7" stroke-linecap="butt"/>
<line x1="430.6" y1="227.51" x2="432.3" y2="227.51" stroke="#222" stroke-width="0.7" stroke-linecap="butt"/>
<line x1="430.1" y1="225.92" x2="432.3" y2="225.92" stroke="#333" stroke-width="0.8" stroke-linecap="butt"/>
<text x="426.7" y="228.27" font-size="4.9" text-anchor="end" fill="#3a3a3a">40</text>
<line x1="430.6" y1="224.33" x2="432.3" y2="224.33" stroke="#222" stroke-width="0.7" stroke-linecap="butt"/>
<line x1="430.6" y1="222.74" x2="432.3" y2="222.74" stroke="#222" stroke-width="0.7" stroke-linecap="butt"/>
<line x1="430.6" y1="221.16" x2="432.3" y2="221.16" stroke="#222" stroke-width="0.7" stroke-linecap="butt"/>
<line x1="430.6" y1="219.57" x2="432.3" y2="219.57" stroke="#222" stroke-width="0.7" stroke-linecap="butt"/>
<line x1="430.1" y1="217.98" x2="432.3" y2="217.98" stroke="#333" stroke-width="0.8" stroke-linecap="butt"/>
<text x="426.7" y="220.33" font-size="4.9" text-anchor="end" fill="#3a3a3a">60</text>
<line x1="430.6" y1="216.39" x2="432.3" y2="216.39" stroke="#222" stroke-width="0.7" stroke-linecap="butt"/>
<line x1="430.6" y1="214.8" x2="432.3" y2="214.8" stroke="#222" stroke-width="0.7" stroke-linecap="butt"/>
<line x1="430.6" y1="213.22" x2="432.3" y2="213.22" stroke="#222" stroke-width="0.7" stroke-linecap="butt"/>
<line x1="430.6" y1="211.63" x2="432.3" y2="211.63" stroke="#222" stroke-width="0.7" stroke-linecap="butt"/>
<line x1="430.1" y1="210.04" x2="432.3" y2="210.04" stroke="#333" stroke-width="0.8" stroke-linecap="butt"/>
<text x="426.7" y="212.39" font-size="4.9" text-anchor="end" fill="#3a3a3a">80</text>
<line x1="430.6" y1="208.45" x2="432.3" y2="208.45" stroke="#222" stroke-width="0.7" stroke-linecap="butt"/>
<line x1="430.6" y1="206.86" x2="432.3" y2="206.86" stroke="#222" stroke-width="0.7" stroke-linecap="butt"/>
<line x1="430.6" y1="205.28" x2="432.3" y2="205.28" stroke="#222" stroke-width="0.7" stroke-linecap="butt"/>
<line x1="430.6" y1="203.69" x2="432.3" y2="203.69" stroke="#222" stroke-width="0.7" stroke-linecap="butt"/>
<line x1="430.1" y1="202.1" x2="432.3" y2="202.1" stroke="#333" stroke-width="0.8" stroke-linecap="butt"/>
<text x="426.7" y="204.45" font-size="4.9" text-anchor="end" fill="#3a3a3a">100</text>
<line x1="432.3" y1="243.4" x2="473.3" y2="243.4" stroke="#222" stroke-width="1.3" stroke-dasharray="0.9 0.7"/>
<line x1="433.2" y1="242.1" x2="433.2" y2="244.7" stroke="#222" stroke-width="0.8" stroke-linecap="butt"/>
<text x="433.2" y="252.2" font-size="4.7" text-anchor="middle" fill="#3a3a3a">10</text>
<text x="436.6" y="249.1" font-size="3.8" text-anchor="middle" fill="#3a3a3a">0</text>
<line x1="440.6" y1="242.1" x2="440.6" y2="244.7" stroke="#222" stroke-width="0.8" stroke-linecap="butt"/>
<text x="440.6" y="252.2" font-size="4.7" text-anchor="middle" fill="#3a3a3a">10</text>
<text x="444" y="249.1" font-size="3.8" text-anchor="middle" fill="#3a3a3a">1</text>
<line x1="448" y1="242.1" x2="448" y2="244.7" stroke="#222" stroke-width="0.8" stroke-linecap="butt"/>
<text x="448" y="252.2" font-size="4.7" text-anchor="middle" fill="#3a3a3a">10</text>
<text x="451.4" y="249.1" font-size="3.8" text-anchor="middle" fill="#3a3a3a">2</text>
<line x1="455.4" y1="242.1" x2="455.4" y2="244.7" stroke="#222" stroke-width="0.8" stroke-linecap="butt"/>
<text x="455.4" y="252.2" font-size="4.7" text-anchor="middle" fill="#3a3a3a">10</text>
<text x="458.8" y="249.1" font-size="3.8" text-anchor="middle" fill="#3a3a3a">3</text>
<line x1="462.8" y1="242.1" x2="462.8" y2="244.7" stroke="#222" stroke-width="0.8" stroke-linecap="butt"/>
<text x="462.8" y="252.2" font-size="4.7" text-anchor="middle" fill="#3a3a3a">10</text>
<text x="466.2" y="249.1" font-size="3.8" text-anchor="middle" fill="#3a3a3a">4</text>
<line x1="470.2" y1="242.1" x2="470.2" y2="244.7" stroke="#222" stroke-width="0.8" stroke-linecap="butt"/>
<text x="470.2" y="252.2" font-size="4.7" text-anchor="middle" fill="#3a3a3a">10</text>
<text x="473.6" y="249.1" font-size="3.8" text-anchor="middle" fill="#3a3a3a">5</text>
<rect x="431.3" y="273.6" width="41" height="41.3" fill="none" stroke="#2e2e2e" stroke-width="1.4"/>
<line x1="429.1" y1="314.6" x2="431.3" y2="314.6" stroke="#333" stroke-width="0.8" stroke-linecap="butt"/>
<text x="425.7" y="316.95" font-size="4.9" text-anchor="end" fill="#3a3a3a">0</text>
<line x1="429.6" y1="313.01" x2="431.3" y2="313.01" stroke="#222" stroke-width="0.7" stroke-linecap="butt"/>
<line x1="429.6" y1="311.42" x2="431.3" y2="311.42" stroke="#222" stroke-width="0.7" stroke-linecap="butt"/>
<line x1="429.6" y1="309.84" x2="431.3" y2="309.84" stroke="#222" stroke-width="0.7" stroke-linecap="butt"/>
<line x1="429.6" y1="308.25" x2="431.3" y2="308.25" stroke="#222" stroke-width="0.7" stroke-linecap="butt"/>
<line x1="429.1" y1="306.66" x2="431.3" y2="306.66" stroke="#333" stroke-width="0.8" stroke-linecap="butt"/>
<text x="425.7" y="309.01" font-size="4.9" text-anchor="end" fill="#3a3a3a">20</text>
<line x1="429.6" y1="305.07" x2="431.3" y2="305.07" stroke="#222" stroke-width="0.7" stroke-linecap="butt"/>
<line x1="429.6" y1="303.48" x2="431.3" y2="303.48" stroke="#222" stroke-width="0.7" stroke-linecap="butt"/>
<line x1="429.6" y1="301.9" x2="431.3" y2="301.9" stroke="#222" stroke-width="0.7" stroke-linecap="butt"/>
<line x1="429.6" y1="300.31" x2="431.3" y2="300.31" stroke="#222" stroke-width="0.7" stroke-linecap="butt"/>
<line x1="429.1" y1="298.72" x2="431.3" y2="298.72" stroke="#333" stroke-width="0.8" stroke-linecap="butt"/>
<text x="425.7" y="301.07" font-size="4.9" text-anchor="end" fill="#3a3a3a">40</text>
<line x1="429.6" y1="297.13" x2="431.3" y2="297.13" stroke="#222" stroke-width="0.7" stroke-linecap="butt"/>
<line x1="429.6" y1="295.54" x2="431.3" y2="295.54" stroke="#222" stroke-width="0.7" stroke-linecap="butt"/>
<line x1="429.6" y1="293.96" x2="431.3" y2="293.96" stroke="#222" stroke-width="0.7" stroke-linecap="butt"/>
<line x1="429.6" y1="292.37" x2="431.3" y2="292.37" stroke="#222" stroke-width="0.7" stroke-linecap="butt"/>
<line x1="429.1" y1="290.78" x2="431.3" y2="290.78" stroke="#333" stroke-width="0.8" stroke-linecap="butt"/>
<text x="425.7" y="293.13" font-size="4.9" text-anchor="end" fill="#3a3a3a">60</text>
<line x1="429.6" y1="289.19" x2="431.3" y2="289.19" stroke="#222" stroke-width="0.7" stroke-linecap="butt"/>
<line x1="429.6" y1="287.6" x2="431.3" y2="287.6" stroke="#222" stroke-width="0.7" stroke-linecap="butt"/>
<line x1="429.6" y1="286.02" x2="431.3" y2="286.02" stroke="#222" stroke-width="0.7" stroke-linecap="butt"/>
<line x1="429.6" y1="284.43" x2="431.3" y2="284.43" stroke="#222" stroke-width="0.7" stroke-linecap="butt"/>
<line x1="429.1" y1="282.84" x2="431.3" y2="282.84" stroke="#333" stroke-width="0.8" stroke-linecap="butt"/>
<text x="425.7" y="285.19" font-size="4.9" text-anchor="end" fill="#3a3a3a">80</text>
<line x1="429.6" y1="281.25" x2="431.3" y2="281.25" stroke="#222" stroke-width="0.7" stroke-linecap="butt"/>
<line x1="429.6" y1="279.66" x2="431.3" y2="279.66" stroke="#222" stroke-width="0.7" stroke-linecap="butt"/>
<line x1="429.6" y1="278.08" x2="431.3" y2="278.08" stroke="#222" stroke-width="0.7" stroke-linecap="butt"/>
<line x1="429.6" y1="276.49" x2="431.3" y2="276.49" stroke="#222" stroke-width="0.7" stroke-linecap="butt"/>
<line x1="429.1" y1="274.9" x2="431.3" y2="274.9" stroke="#333" stroke-width="0.8" stroke-linecap="butt"/>
<text x="425.7" y="277.25" font-size="4.9" text-anchor="end" fill="#3a3a3a">100</text>
<line x1="431.3" y1="316.2" x2="472.3" y2="316.2" stroke="#222" stroke-width="1.3" stroke-dasharray="0.9 0.7"/>
<line x1="432.2" y1="314.9" x2="432.2" y2="317.5" stroke="#222" stroke-width="0.8" stroke-linecap="butt"/>
<text x="432.2" y="325" font-size="4.7" text-anchor="middle" fill="#3a3a3a">10</text>
<text x="435.6" y="321.9" font-size="3.8" text-anchor="middle" fill="#3a3a3a">0</text>
<line x1="439.6" y1="314.9" x2="439.6" y2="317.5" stroke="#222" stroke-width="0.8" stroke-linecap="butt"/>
<text x="439.6" y="325" font-size="4.7" text-anchor="middle" fill="#3a3a3a">10</text>
<text x="443" y="321.9" font-size="3.8" text-anchor="middle" fill="#3a3a3a">1</text>
<line x1="447" y1="314.9" x2="447" y2="317.5" stroke="#222" stroke-width="0.8" stroke-linecap="butt"/>
<text x="447" y="325" font-size="4.7" text-anchor="middle" fill="#3a3a3a">10</text>
<text x="450.4" y="321.9" font-size="3.8" text-anchor="middle" fill="#3a3a3a">2</text>
<line x1="454.4" y1="314.9" x2="454.4" y2="317.5" stroke="#222" stroke-width="0.8" stroke-linecap="butt"/>
<text x="454.4" y="325" font-size="4.7" text-anchor="middle" fill="#3a3a3a">10</text>
<text x="457.8" y="321.9" font-size="3.8" text-anchor="middle" fill="#3a3a3a">3</text>
<line x1="461.8" y1="314.9" x2="461.8" y2="317.5" stroke="#222" stroke-width="0.8" stroke-linecap="butt"/>
<text x="461.8" y="325" font-size="4.7" text-anchor="middle" fill="#3a3a3a">10</text>
<text x="465.2" y="321.9" font-size="3.8" text-anchor="middle" fill="#3a3a3a">4</text>
<line x1="469.2" y1="314.9" x2="469.2" y2="317.5" stroke="#222" stroke-width="0.8" stroke-linecap="butt"/>
<text x="469.2" y="325" font-size="4.7" text-anchor="middle" fill="#3a3a3a">10</text>
<text x="472.6" y="321.9" font-size="3.8" text-anchor="middle" fill="#3a3a3a">5</text>
<path d="M454.2,241.8 C454.47,241.17 455.3,240.83 455.8,238 C456.3,235.17 456.67,229.63 457.2,224.8 C457.73,219.97 458.47,212.35 459,209 C459.53,205.65 459.93,204.78 460.4,204.7 C460.87,204.62 461.35,206.38 461.8,208.5 C462.25,210.62 462.73,213.82 463.1,217.4 C463.47,220.98 463.72,226.53 464,230 C464.28,233.47 464.45,236.23 464.8,238.2 C465.15,240.17 465.88,241.2 466.1,241.8" fill="none" stroke="#68728a" stroke-width="1.05" stroke-linejoin="round"/>
<path d="M455.7,241.8 C456.08,241.25 457.27,240.83 458,238.5 C458.73,236.17 459.53,231.88 460.1,227.8 C460.67,223.72 461.03,217.3 461.4,214 C461.77,210.7 461.88,209.27 462.3,208 C462.72,206.73 463.38,206.37 463.9,206.4 C464.42,206.43 464.98,206.27 465.4,208.2 C465.82,210.13 466.08,213.98 466.4,218 C466.72,222.02 466.98,228.72 467.3,232.3 C467.62,235.88 467.93,237.92 468.3,239.5 C468.67,241.08 469.3,241.42 469.5,241.8" fill="none" stroke="#c41e48" stroke-width="1.1" stroke-linejoin="round"/>
<path d="M454.9,314.8 C455.13,314.17 455.88,314.3 456.3,311 C456.72,307.7 457.08,299.67 457.4,295 C457.72,290.33 457.98,285.63 458.2,283 C458.42,280.37 458.48,279.2 458.7,279.2 C458.92,279.2 459.2,280.03 459.5,283 C459.8,285.97 460.17,292.42 460.5,297 C460.83,301.58 461.15,307.53 461.5,310.5 C461.85,313.47 462.42,314.08 462.6,314.8" fill="none" stroke="#68728a" stroke-width="1.05" stroke-linejoin="round"/>
<path d="M457.9,314.8 C458.17,314 459.07,313.47 459.5,310 C459.93,306.53 460.22,298.83 460.5,294 C460.78,289.17 461.02,283.8 461.2,281 C461.38,278.2 461.42,277.2 461.6,277.2 C461.78,277.2 462.02,277.87 462.3,281 C462.58,284.13 462.97,291.08 463.3,296 C463.63,300.92 463.98,307.37 464.3,310.5 C464.62,313.63 465.05,314.08 465.2,314.8" fill="none" stroke="#c41e48" stroke-width="1.1" stroke-linejoin="round"/>
<line x1="415.4" y1="204.8" x2="415.4" y2="255.8" stroke="#2a2a2a" stroke-width="1.5" stroke-linecap="butt"/>
<path d="M415.4,200.8 L412.9,206.6 L417.9,206.6 Z" fill="#111"/>
<line x1="415.4" y1="255.8" x2="469.6" y2="255.8" stroke="#2a2a2a" stroke-width="1.5" stroke-linecap="butt"/>
<path d="M473.6,255.8 L467.8,253.3 L467.8,258.3 Z" fill="#111"/>
<line x1="415.4" y1="278" x2="415.4" y2="329" stroke="#2a2a2a" stroke-width="1.5" stroke-linecap="butt"/>
<path d="M415.4,274 L412.9,279.8 L417.9,279.8 Z" fill="#111"/>
<line x1="415.4" y1="329" x2="469" y2="329" stroke="#2a2a2a" stroke-width="1.5" stroke-linecap="butt"/>
<path d="M473,329 L467.2,326.5 L467.2,331.5 Z" fill="#111"/>
<text x="410" y="221.1" font-size="10.0" text-anchor="middle" fill="#231f20" textLength="25" lengthAdjust="spacingAndGlyphs" transform="rotate(-90 410 221.1)">Counts</text>
<text x="410" y="294.5" font-size="10.0" text-anchor="middle" fill="#231f20" textLength="24" lengthAdjust="spacingAndGlyphs" transform="rotate(-90 410 294.5)">Counts</text>
<text x="445.24" y="267.8" font-size="10.0" fill="#231f20" textLength="27.97" lengthAdjust="spacingAndGlyphs">Perforin</text>
<text x="451.62" y="340.4" font-size="10.0" fill="#231f20" textLength="21.19" lengthAdjust="spacingAndGlyphs">GzmB</text>
<text x="8.14" y="363.1" font-size="11.8" font-weight="bold" fill="#000" textLength="7.83" lengthAdjust="spacingAndGlyphs">F</text>
<line x1="40.8" y1="373.6" x2="40.8" y2="461.6" stroke="#262626" stroke-width="1.5" stroke-linecap="butt"/>
<line x1="37.8" y1="376.5" x2="40.8" y2="376.5" stroke="#1e1e1e" stroke-width="1.2" stroke-linecap="butt"/>
<text x="35.2" y="379.59" font-size="8.7" text-anchor="end" fill="#231f20">100</text>
<line x1="37.8" y1="393.38" x2="40.8" y2="393.38" stroke="#1e1e1e" stroke-width="1.2" stroke-linecap="butt"/>
<text x="35.2" y="396.47" font-size="8.7" text-anchor="end" fill="#231f20">80</text>
<line x1="37.8" y1="410.26" x2="40.8" y2="410.26" stroke="#1e1e1e" stroke-width="1.2" stroke-linecap="butt"/>
<text x="35.2" y="413.35" font-size="8.7" text-anchor="end" fill="#231f20">60</text>
<line x1="37.8" y1="427.14" x2="40.8" y2="427.14" stroke="#1e1e1e" stroke-width="1.2" stroke-linecap="butt"/>
<text x="35.2" y="430.23" font-size="8.7" text-anchor="end" fill="#231f20">40</text>
<line x1="37.8" y1="444.02" x2="40.8" y2="444.02" stroke="#1e1e1e" stroke-width="1.2" stroke-linecap="butt"/>
<text x="35.2" y="447.11" font-size="8.7" text-anchor="end" fill="#231f20">20</text>
<line x1="37.8" y1="460.9" x2="40.8" y2="460.9" stroke="#1e1e1e" stroke-width="1.2" stroke-linecap="butt"/>
<text x="35.2" y="463.99" font-size="8.7" text-anchor="end" fill="#231f20">0</text>
<line x1="38.8" y1="460.9" x2="114.5" y2="460.9" stroke="#262626" stroke-width="1.5" stroke-linecap="butt"/>
<rect x="47.7" y="429.9" width="10" height="31" fill="#4f566a" stroke="#3c4356" stroke-width="0.8"/>
<rect x="62.7" y="411.5" width="9.8" height="49.4" fill="#a3002b" stroke="#8c0025" stroke-width="0.8"/>
<rect x="83.1" y="399.7" width="10" height="61.2" fill="#4f566a" stroke="#3c4356" stroke-width="0.8"/>
<rect x="97.8" y="411.3" width="9.8" height="49.6" fill="#a3002b" stroke="#8c0025" stroke-width="0.8"/>
<line x1="52.7" y1="429.5" x2="52.7" y2="422.5" stroke="#3a3a3a" stroke-width="1.3" stroke-linecap="butt"/>
<line x1="49.9" y1="423" x2="55.5" y2="423" stroke="#2a2a2a" stroke-width="1.25" stroke-linecap="butt"/>
<line x1="67.6" y1="411.1" x2="67.6" y2="406.5" stroke="#3a3a3a" stroke-width="1.3" stroke-linecap="butt"/>
<line x1="64.8" y1="407" x2="70.4" y2="407" stroke="#2a2a2a" stroke-width="1.25" stroke-linecap="butt"/>
<line x1="88.1" y1="399.3" x2="88.1" y2="394.1" stroke="#3a3a3a" stroke-width="1.3" stroke-linecap="butt"/>
<line x1="85.3" y1="394.6" x2="90.9" y2="394.6" stroke="#2a2a2a" stroke-width="1.25" stroke-linecap="butt"/>
<line x1="102.7" y1="410.9" x2="102.7" y2="401.3" stroke="#3a3a3a" stroke-width="1.3" stroke-linecap="butt"/>
<line x1="99.9" y1="401.8" x2="105.5" y2="401.8" stroke="#2a2a2a" stroke-width="1.25" stroke-linecap="butt"/>
<line x1="47" y1="376.8" x2="73" y2="376.8" stroke="#555" stroke-width="1.4" stroke-linecap="butt"/>
<line x1="82.7" y1="376.8" x2="108.2" y2="376.8" stroke="#555" stroke-width="1.4" stroke-linecap="butt"/>
<text x="60" y="374.2" font-size="8.4" text-anchor="middle" fill="#231f20" textLength="10.5" lengthAdjust="spacingAndGlyphs">US</text>
<text x="95.3" y="374.2" font-size="8.4" text-anchor="middle" fill="#231f20" textLength="17.5" lengthAdjust="spacingAndGlyphs">K562</text>
<text x="78" y="471.3" font-size="8.4" text-anchor="middle" fill="#231f20" textLength="16.3" lengthAdjust="spacingAndGlyphs">FasL</text>
<text transform="translate(15.4 439.8) rotate(-90)" x="-0.27" y="0" font-size="10.2" fill="#231f20" textLength="45.97" lengthAdjust="spacingAndGlyphs">% expression</text>
<text x="130.33" y="363.8" font-size="11.8" font-weight="bold" fill="#000" textLength="10.72" lengthAdjust="spacingAndGlyphs">G</text>
<line x1="160.8" y1="376.4" x2="160.8" y2="461.6" stroke="#262626" stroke-width="1.5" stroke-linecap="butt"/>
<line x1="157.8" y1="379.3" x2="160.8" y2="379.3" stroke="#1e1e1e" stroke-width="1.2" stroke-linecap="butt"/>
<text x="155.2" y="382.39" font-size="8.7" text-anchor="end" fill="#231f20">15</text>
<line x1="157.8" y1="406.5" x2="160.8" y2="406.5" stroke="#1e1e1e" stroke-width="1.2" stroke-linecap="butt"/>
<text x="155.2" y="409.59" font-size="8.7" text-anchor="end" fill="#231f20">10</text>
<line x1="157.8" y1="433.7" x2="160.8" y2="433.7" stroke="#1e1e1e" stroke-width="1.2" stroke-linecap="butt"/>
<text x="155.2" y="436.79" font-size="8.7" text-anchor="end" fill="#231f20">5</text>
<line x1="157.8" y1="460.9" x2="160.8" y2="460.9" stroke="#1e1e1e" stroke-width="1.2" stroke-linecap="butt"/>
<text x="155.2" y="463.99" font-size="8.7" text-anchor="end" fill="#231f20">0</text>
<line x1="158.7" y1="460.9" x2="195.6" y2="460.9" stroke="#262626" stroke-width="1.5" stroke-linecap="butt"/>
<line x1="178.5" y1="460.9" x2="178.5" y2="464.5" stroke="#1e1e1e" stroke-width="1.2" stroke-linecap="butt"/>
<rect x="167.4" y="409.7" width="9" height="51.2" fill="#4f566a" stroke="#3c4356" stroke-width="0.8"/>
<rect x="180.6" y="430.8" width="8.8" height="30.1" fill="#a3002b" stroke="#8c0025" stroke-width="0.8"/>
<line x1="171.9" y1="409.3" x2="171.9" y2="398.9" stroke="#3a3a3a" stroke-width="1.3" stroke-linecap="butt"/>
<line x1="169.1" y1="399.4" x2="174.7" y2="399.4" stroke="#2a2a2a" stroke-width="1.25" stroke-linecap="butt"/>
<line x1="185" y1="430.4" x2="185" y2="423.5" stroke="#3a3a3a" stroke-width="1.3" stroke-linecap="butt"/>
<line x1="182.2" y1="424" x2="187.8" y2="424" stroke="#2a2a2a" stroke-width="1.25" stroke-linecap="butt"/>
<line x1="165.2" y1="379.5" x2="193.6" y2="379.5" stroke="#555" stroke-width="1.4" stroke-linecap="butt"/>
<text x="173.85" y="377.6" font-size="7.6" fill="#231f20" textLength="9.82" lengthAdjust="spacingAndGlyphs">6h</text>
<line x1="172.5" y1="394.8" x2="184.6" y2="394.8" stroke="#555" stroke-width="1.4" stroke-linecap="butt"/>
<text x="178.55" y="396.35" font-size="10.0" text-anchor="middle" fill="#222">*</text>
<text x="178.3" y="474.6" font-size="8.4" text-anchor="middle" fill="#231f20" textLength="19.2" lengthAdjust="spacingAndGlyphs">K562</text>
<g transform="translate(139.8 439.6) rotate(-90) scale(0.785 1)"><text x="-0.35" y="0" font-size="9.8" fill="#231f20">% IFN-γ<tspan font-size="6.6" dy="-3.6">+</tspan><tspan dy="3.6"> NK</tspan></text></g>
<line x1="231.6" y1="376.4" x2="231.6" y2="461.6" stroke="#262626" stroke-width="1.5" stroke-linecap="butt"/>
<line x1="228.6" y1="379.3" x2="231.6" y2="379.3" stroke="#1e1e1e" stroke-width="1.2" stroke-linecap="butt"/>
<text x="226" y="382.39" font-size="8.7" text-anchor="end" fill="#231f20">100</text>
<line x1="228.6" y1="395.62" x2="231.6" y2="395.62" stroke="#1e1e1e" stroke-width="1.2" stroke-linecap="butt"/>
<text x="226" y="398.71" font-size="8.7" text-anchor="end" fill="#231f20">80</text>
<line x1="228.6" y1="411.94" x2="231.6" y2="411.94" stroke="#1e1e1e" stroke-width="1.2" stroke-linecap="butt"/>
<text x="226" y="415.03" font-size="8.7" text-anchor="end" fill="#231f20">60</text>
<line x1="228.6" y1="428.26" x2="231.6" y2="428.26" stroke="#1e1e1e" stroke-width="1.2" stroke-linecap="butt"/>
<text x="226" y="431.35" font-size="8.7" text-anchor="end" fill="#231f20">40</text>
<line x1="228.6" y1="444.58" x2="231.6" y2="444.58" stroke="#1e1e1e" stroke-width="1.2" stroke-linecap="butt"/>
<text x="226" y="447.67" font-size="8.7" text-anchor="end" fill="#231f20">20</text>
<line x1="228.6" y1="460.9" x2="231.6" y2="460.9" stroke="#1e1e1e" stroke-width="1.2" stroke-linecap="butt"/>
<text x="226" y="463.99" font-size="8.7" text-anchor="end" fill="#231f20">0</text>
<line x1="229.2" y1="460.9" x2="302.7" y2="460.9" stroke="#262626" stroke-width="1.5" stroke-linecap="butt"/>
<line x1="249.8" y1="460.9" x2="249.8" y2="464.5" stroke="#1e1e1e" stroke-width="1.2" stroke-linecap="butt"/>
<line x1="284" y1="460.9" x2="284" y2="464.5" stroke="#1e1e1e" stroke-width="1.2" stroke-linecap="butt"/>
<rect x="238.5" y="429.9" width="9.5" height="31" fill="#4f566a" stroke="#3c4356" stroke-width="0.8"/>
<rect x="252.4" y="420.8" width="9.7" height="40.1" fill="#a3002b" stroke="#8c0025" stroke-width="0.8"/>
<rect x="272.4" y="406.7" width="9.5" height="54.2" fill="#4f566a" stroke="#3c4356" stroke-width="0.8"/>
<rect x="286.3" y="394.8" width="9.4" height="66.1" fill="#a3002b" stroke="#8c0025" stroke-width="0.8"/>
<line x1="243.25" y1="429.5" x2="243.25" y2="423" stroke="#3a3a3a" stroke-width="1.3" stroke-linecap="butt"/>
<line x1="240.45" y1="423.5" x2="246.05" y2="423.5" stroke="#2a2a2a" stroke-width="1.25" stroke-linecap="butt"/>
<line x1="257.25" y1="420.4" x2="257.25" y2="414" stroke="#3a3a3a" stroke-width="1.3" stroke-linecap="butt"/>
<line x1="254.45" y1="414.5" x2="260.05" y2="414.5" stroke="#2a2a2a" stroke-width="1.25" stroke-linecap="butt"/>
<line x1="277.15" y1="406.3" x2="277.15" y2="400.8" stroke="#3a3a3a" stroke-width="1.3" stroke-linecap="butt"/>
<line x1="274.35" y1="401.3" x2="279.95" y2="401.3" stroke="#2a2a2a" stroke-width="1.25" stroke-linecap="butt"/>
<line x1="291" y1="394.4" x2="291" y2="390.1" stroke="#3a3a3a" stroke-width="1.3" stroke-linecap="butt"/>
<line x1="288.2" y1="390.6" x2="293.8" y2="390.6" stroke="#2a2a2a" stroke-width="1.25" stroke-linecap="butt"/>
<line x1="238.1" y1="379.4" x2="292.5" y2="379.4" stroke="#555" stroke-width="1.4" stroke-linecap="butt"/>
<text x="258.87" y="377.5" font-size="7.6" fill="#231f20" textLength="14.18" lengthAdjust="spacingAndGlyphs">24h</text>
<text x="250.1" y="474.8" font-size="8.4" text-anchor="middle" fill="#231f20" textLength="18.6" lengthAdjust="spacingAndGlyphs">IL-12</text>
<text x="250.1" y="484.9" font-size="8.4" text-anchor="middle" fill="#231f20" textLength="18.6" lengthAdjust="spacingAndGlyphs">IL-18</text>
<text x="284" y="474.8" font-size="8.4" text-anchor="middle" fill="#231f20" textLength="18.6" lengthAdjust="spacingAndGlyphs">IL-12</text>
<text x="284" y="484.9" font-size="8.4" text-anchor="middle" fill="#231f20" textLength="18.6" lengthAdjust="spacingAndGlyphs">IL-18</text>
<text x="284" y="495" font-size="8.4" text-anchor="middle" fill="#231f20" textLength="18.6" lengthAdjust="spacingAndGlyphs">IL-15</text>
<text x="318.36" y="363.4" font-size="11.8" font-weight="bold" fill="#000" textLength="10.2" lengthAdjust="spacingAndGlyphs">H</text>
<line x1="344" y1="374.2" x2="344" y2="461.6" stroke="#262626" stroke-width="1.5" stroke-linecap="butt"/>
<line x1="341" y1="377.1" x2="344" y2="377.1" stroke="#1e1e1e" stroke-width="1.2" stroke-linecap="butt"/>
<text x="338.4" y="380.19" font-size="8.7" text-anchor="end" fill="#231f20">8</text>
<line x1="341" y1="398.05" x2="344" y2="398.05" stroke="#1e1e1e" stroke-width="1.2" stroke-linecap="butt"/>
<text x="338.4" y="401.14" font-size="8.7" text-anchor="end" fill="#231f20">6</text>
<line x1="341" y1="419" x2="344" y2="419" stroke="#1e1e1e" stroke-width="1.2" stroke-linecap="butt"/>
<text x="338.4" y="422.09" font-size="8.7" text-anchor="end" fill="#231f20">4</text>
<line x1="341" y1="439.95" x2="344" y2="439.95" stroke="#1e1e1e" stroke-width="1.2" stroke-linecap="butt"/>
<text x="338.4" y="443.04" font-size="8.7" text-anchor="end" fill="#231f20">2</text>
<line x1="341" y1="460.9" x2="344" y2="460.9" stroke="#1e1e1e" stroke-width="1.2" stroke-linecap="butt"/>
<text x="338.4" y="463.99" font-size="8.7" text-anchor="end" fill="#231f20">0</text>
<line x1="341" y1="460.9" x2="416.6" y2="460.9" stroke="#262626" stroke-width="1.5" stroke-linecap="butt"/>
<line x1="362" y1="460.9" x2="362" y2="464.5" stroke="#1e1e1e" stroke-width="1.2" stroke-linecap="butt"/>
<line x1="398.7" y1="460.9" x2="398.7" y2="464.5" stroke="#1e1e1e" stroke-width="1.2" stroke-linecap="butt"/>
<rect x="349.4" y="451.4" width="10.8" height="9.5" fill="#4f566a" stroke="#3c4356" stroke-width="0.8"/>
<rect x="364.4" y="405.3" width="11.2" height="55.6" fill="#a3002b" stroke="#8c0025" stroke-width="0.8"/>
<rect x="385.2" y="451.4" width="11.1" height="9.5" fill="#4f566a" stroke="#3c4356" stroke-width="0.8"/>
<rect x="400.5" y="434.3" width="10.9" height="26.6" fill="#a3002b" stroke="#8c0025" stroke-width="0.8"/>
<line x1="370" y1="404.9" x2="370" y2="387.4" stroke="#3a3a3a" stroke-width="1.3" stroke-linecap="butt"/>
<line x1="367.2" y1="387.9" x2="372.8" y2="387.9" stroke="#2a2a2a" stroke-width="1.25" stroke-linecap="butt"/>
<line x1="405.95" y1="433.9" x2="405.95" y2="427.7" stroke="#3a3a3a" stroke-width="1.3" stroke-linecap="butt"/>
<line x1="403.15" y1="428.2" x2="408.75" y2="428.2" stroke="#2a2a2a" stroke-width="1.25" stroke-linecap="butt"/>
<line x1="391.6" y1="419.7" x2="405.8" y2="419.7" stroke="#555" stroke-width="1.4" stroke-linecap="butt"/>
<text x="398.7" y="421.25" font-size="10.0" text-anchor="middle" fill="#222">*</text>
<text x="362" y="474.8" font-size="8.4" text-anchor="middle" fill="#231f20" textLength="18.6" lengthAdjust="spacingAndGlyphs">IL-12</text>
<text x="362" y="484.9" font-size="8.4" text-anchor="middle" fill="#231f20" textLength="18.6" lengthAdjust="spacingAndGlyphs">IL-18</text>
<text x="398.5" y="474.8" font-size="8.4" text-anchor="middle" fill="#231f20" textLength="18.6" lengthAdjust="spacingAndGlyphs">IL-12</text>
<text x="398.5" y="484.9" font-size="8.4" text-anchor="middle" fill="#231f20" textLength="18.6" lengthAdjust="spacingAndGlyphs">IL-18</text>
<text x="398.5" y="495" font-size="8.4" text-anchor="middle" fill="#231f20" textLength="18.6" lengthAdjust="spacingAndGlyphs">IL-15</text>
<text transform="translate(327.3 458.4) rotate(-90)" x="-0.64" y="0" font-size="9.8" fill="#231f20" textLength="82.64" lengthAdjust="spacingAndGlyphs">Relative IFN-γ secretion</text>
<rect x="419.7" y="378" width="6.1" height="2.6" fill="#4f566a"/>
<text x="428.61" y="381.6" font-size="8.2" fill="#231f20" textLength="12.31" lengthAdjust="spacingAndGlyphs">ctrl</text>
<rect x="419.7" y="389.2" width="6.1" height="2.8" fill="#a3002b"/>
<text x="428.45" y="392.6" font-size="8.2" fill="#231f20" textLength="14.17" lengthAdjust="spacingAndGlyphs">p27</text>
</svg>
</body></html>
